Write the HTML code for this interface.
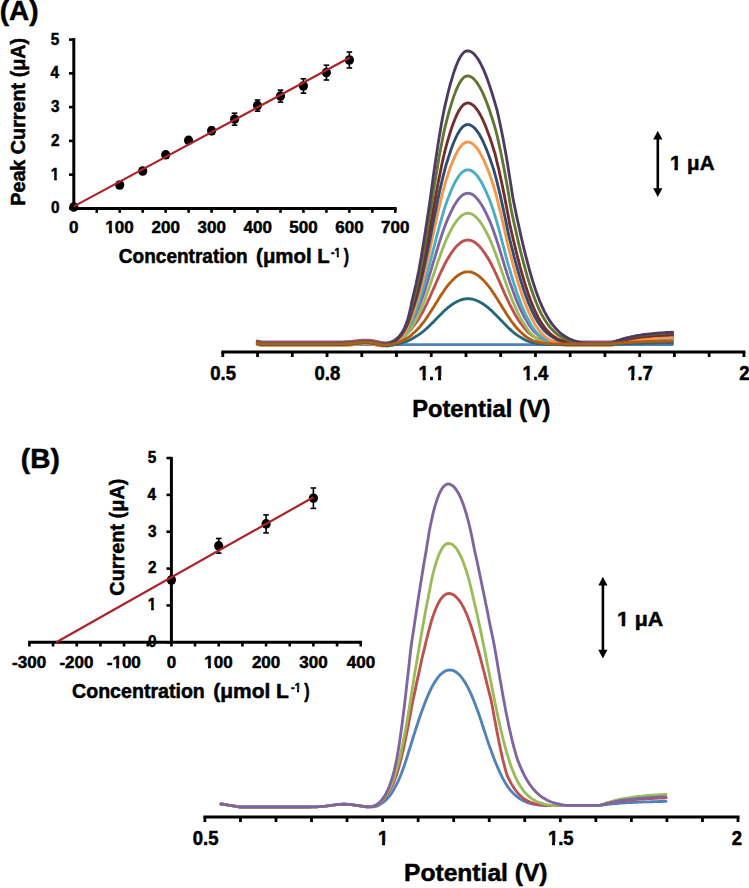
<!DOCTYPE html>
<html><head><meta charset="utf-8"><style>
html,body{margin:0;padding:0;background:#fff;}
svg{display:block;}
text{font-family:"Liberation Sans",sans-serif;font-weight:bold;stroke:#000;stroke-width:0.5px;stroke-linejoin:round;}
</style></head><body>
<svg width="749" height="888" viewBox="0 0 749 888">
<rect width="749" height="888" fill="#fff"/>
<text x="-0.35" y="19.60" font-size="27.5" textLength="38.80" lengthAdjust="spacingAndGlyphs" fill="#000" >(A)</text>
<line x1="73.80" y1="38.10" x2="73.80" y2="209.90" stroke="#000" stroke-width="3" stroke-linecap="butt"/>
<line x1="69.00" y1="208.40" x2="73.80" y2="208.40" stroke="#000" stroke-width="2.6" stroke-linecap="butt"/>
<text x="51.05" y="213.48" font-size="16.5" textLength="8.53" lengthAdjust="spacingAndGlyphs" fill="#000" >0</text>
<line x1="69.00" y1="174.64" x2="73.80" y2="174.64" stroke="#000" stroke-width="2.6" stroke-linecap="butt"/>
<text x="50.85" y="179.72" font-size="16.5" textLength="8.53" lengthAdjust="spacingAndGlyphs" fill="#000" >1</text>
<line x1="69.00" y1="140.88" x2="73.80" y2="140.88" stroke="#000" stroke-width="2.6" stroke-linecap="butt"/>
<text x="51.03" y="145.96" font-size="16.5" textLength="8.53" lengthAdjust="spacingAndGlyphs" fill="#000" >2</text>
<line x1="69.00" y1="107.12" x2="73.80" y2="107.12" stroke="#000" stroke-width="2.6" stroke-linecap="butt"/>
<text x="50.97" y="112.20" font-size="16.5" textLength="8.53" lengthAdjust="spacingAndGlyphs" fill="#000" >3</text>
<line x1="69.00" y1="73.36" x2="73.80" y2="73.36" stroke="#000" stroke-width="2.6" stroke-linecap="butt"/>
<text x="50.49" y="78.44" font-size="16.5" textLength="8.53" lengthAdjust="spacingAndGlyphs" fill="#000" >4</text>
<line x1="69.00" y1="39.60" x2="73.80" y2="39.60" stroke="#000" stroke-width="2.6" stroke-linecap="butt"/>
<text x="50.85" y="44.68" font-size="16.5" textLength="8.53" lengthAdjust="spacingAndGlyphs" fill="#000" >5</text>
<line x1="72.30" y1="208.40" x2="396.60" y2="208.40" stroke="#000" stroke-width="3" stroke-linecap="butt"/>
<text x="69.08" y="233.45" font-size="17" textLength="9.45" lengthAdjust="spacingAndGlyphs" fill="#000" >0</text>
<line x1="96.77" y1="208.40" x2="96.77" y2="212.80" stroke="#000" stroke-width="2.6" stroke-linecap="butt"/>
<line x1="119.73" y1="208.40" x2="119.73" y2="212.80" stroke="#000" stroke-width="2.6" stroke-linecap="butt"/>
<text x="105.36" y="233.45" font-size="17" textLength="28.36" lengthAdjust="spacingAndGlyphs" fill="#000" >100</text>
<line x1="142.69" y1="208.40" x2="142.69" y2="212.80" stroke="#000" stroke-width="2.6" stroke-linecap="butt"/>
<line x1="165.66" y1="208.40" x2="165.66" y2="212.80" stroke="#000" stroke-width="2.6" stroke-linecap="butt"/>
<text x="151.53" y="233.45" font-size="17" textLength="28.36" lengthAdjust="spacingAndGlyphs" fill="#000" >200</text>
<line x1="188.62" y1="208.40" x2="188.62" y2="212.80" stroke="#000" stroke-width="2.6" stroke-linecap="butt"/>
<line x1="211.59" y1="208.40" x2="211.59" y2="212.80" stroke="#000" stroke-width="2.6" stroke-linecap="butt"/>
<text x="197.56" y="233.45" font-size="17" textLength="28.36" lengthAdjust="spacingAndGlyphs" fill="#000" >300</text>
<line x1="234.56" y1="208.40" x2="234.56" y2="212.80" stroke="#000" stroke-width="2.6" stroke-linecap="butt"/>
<line x1="257.52" y1="208.40" x2="257.52" y2="212.80" stroke="#000" stroke-width="2.6" stroke-linecap="butt"/>
<text x="243.56" y="233.45" font-size="17" textLength="28.36" lengthAdjust="spacingAndGlyphs" fill="#000" >400</text>
<line x1="280.49" y1="208.40" x2="280.49" y2="212.80" stroke="#000" stroke-width="2.6" stroke-linecap="butt"/>
<line x1="303.45" y1="208.40" x2="303.45" y2="212.80" stroke="#000" stroke-width="2.6" stroke-linecap="butt"/>
<text x="289.36" y="233.45" font-size="17" textLength="28.36" lengthAdjust="spacingAndGlyphs" fill="#000" >500</text>
<line x1="326.41" y1="208.40" x2="326.41" y2="212.80" stroke="#000" stroke-width="2.6" stroke-linecap="butt"/>
<line x1="349.38" y1="208.40" x2="349.38" y2="212.80" stroke="#000" stroke-width="2.6" stroke-linecap="butt"/>
<text x="335.24" y="233.45" font-size="17" textLength="28.36" lengthAdjust="spacingAndGlyphs" fill="#000" >600</text>
<line x1="372.35" y1="208.40" x2="372.35" y2="212.80" stroke="#000" stroke-width="2.6" stroke-linecap="butt"/>
<line x1="395.31" y1="208.40" x2="395.31" y2="212.80" stroke="#000" stroke-width="2.6" stroke-linecap="butt"/>
<text x="381.12" y="233.45" font-size="17" textLength="28.36" lengthAdjust="spacingAndGlyphs" fill="#000" >700</text>
<ellipse cx="73.8" cy="207.0" rx="4.6" ry="4.8" fill="#000"/>
<ellipse cx="119.7" cy="185.0" rx="4.6" ry="4.8" fill="#000"/>
<ellipse cx="142.7" cy="171.0" rx="4.6" ry="4.8" fill="#000"/>
<ellipse cx="165.7" cy="154.8" rx="4.6" ry="4.8" fill="#000"/>
<ellipse cx="188.6" cy="140.4" rx="4.6" ry="4.8" fill="#000"/>
<line x1="211.59" y1="127.30" x2="211.59" y2="134.30" stroke="#000" stroke-width="1.6" stroke-linecap="butt"/>
<line x1="208.79" y1="127.30" x2="214.39" y2="127.30" stroke="#000" stroke-width="1.6" stroke-linecap="butt"/>
<line x1="208.79" y1="134.30" x2="214.39" y2="134.30" stroke="#000" stroke-width="1.6" stroke-linecap="butt"/>
<ellipse cx="211.6" cy="130.8" rx="4.6" ry="4.8" fill="#000"/>
<line x1="234.56" y1="113.20" x2="234.56" y2="125.20" stroke="#000" stroke-width="1.6" stroke-linecap="butt"/>
<line x1="231.75" y1="113.20" x2="237.36" y2="113.20" stroke="#000" stroke-width="1.6" stroke-linecap="butt"/>
<line x1="231.75" y1="125.20" x2="237.36" y2="125.20" stroke="#000" stroke-width="1.6" stroke-linecap="butt"/>
<ellipse cx="234.6" cy="119.2" rx="4.6" ry="4.8" fill="#000"/>
<line x1="257.52" y1="100.00" x2="257.52" y2="111.20" stroke="#000" stroke-width="1.6" stroke-linecap="butt"/>
<line x1="254.72" y1="100.00" x2="260.32" y2="100.00" stroke="#000" stroke-width="1.6" stroke-linecap="butt"/>
<line x1="254.72" y1="111.20" x2="260.32" y2="111.20" stroke="#000" stroke-width="1.6" stroke-linecap="butt"/>
<ellipse cx="257.5" cy="105.6" rx="4.6" ry="4.8" fill="#000"/>
<line x1="280.49" y1="90.10" x2="280.49" y2="102.10" stroke="#000" stroke-width="1.6" stroke-linecap="butt"/>
<line x1="277.69" y1="90.10" x2="283.29" y2="90.10" stroke="#000" stroke-width="1.6" stroke-linecap="butt"/>
<line x1="277.69" y1="102.10" x2="283.29" y2="102.10" stroke="#000" stroke-width="1.6" stroke-linecap="butt"/>
<ellipse cx="280.5" cy="96.1" rx="4.6" ry="4.8" fill="#000"/>
<line x1="303.45" y1="78.80" x2="303.45" y2="93.20" stroke="#000" stroke-width="1.6" stroke-linecap="butt"/>
<line x1="300.65" y1="78.80" x2="306.25" y2="78.80" stroke="#000" stroke-width="1.6" stroke-linecap="butt"/>
<line x1="300.65" y1="93.20" x2="306.25" y2="93.20" stroke="#000" stroke-width="1.6" stroke-linecap="butt"/>
<ellipse cx="303.4" cy="86.0" rx="4.6" ry="4.8" fill="#000"/>
<line x1="326.41" y1="65.20" x2="326.41" y2="80.00" stroke="#000" stroke-width="1.6" stroke-linecap="butt"/>
<line x1="323.61" y1="65.20" x2="329.21" y2="65.20" stroke="#000" stroke-width="1.6" stroke-linecap="butt"/>
<line x1="323.61" y1="80.00" x2="329.21" y2="80.00" stroke="#000" stroke-width="1.6" stroke-linecap="butt"/>
<ellipse cx="326.4" cy="72.6" rx="4.6" ry="4.8" fill="#000"/>
<line x1="349.38" y1="52.00" x2="349.38" y2="68.00" stroke="#000" stroke-width="1.6" stroke-linecap="butt"/>
<line x1="346.58" y1="52.00" x2="352.18" y2="52.00" stroke="#000" stroke-width="1.6" stroke-linecap="butt"/>
<line x1="346.58" y1="68.00" x2="352.18" y2="68.00" stroke="#000" stroke-width="1.6" stroke-linecap="butt"/>
<ellipse cx="349.4" cy="60.0" rx="4.6" ry="4.8" fill="#000"/>
<line x1="73.80" y1="206.40" x2="349.88" y2="57.50" stroke="#ad2228" stroke-width="2.2" stroke-linecap="butt"/>
<text transform="translate(24.90,204.70) rotate(-90)" x="-1.07" y="0" font-size="19.5" textLength="167.92" lengthAdjust="spacingAndGlyphs">Peak Current (μA)</text>
<text x="118.87" y="263.20" font-size="19.5" textLength="128.86" lengthAdjust="spacingAndGlyphs" fill="#000" >Concentration</text>
<text x="256.13" y="263.20" font-size="19.5" textLength="73.56" lengthAdjust="spacingAndGlyphs" fill="#000" >(μmol L</text>
<text x="331.03" y="256.70" font-size="12" textLength="9.52" lengthAdjust="spacingAndGlyphs" fill="#000" >-1</text>
<text x="343.63" y="263.20" font-size="19.5" textLength="5.32" lengthAdjust="spacingAndGlyphs" fill="#000" >)</text>
<line x1="221.30" y1="352.00" x2="745.40" y2="352.00" stroke="#000" stroke-width="3.2" stroke-linecap="butt"/>
<line x1="222.80" y1="352.00" x2="222.80" y2="357.00" stroke="#000" stroke-width="2.8" stroke-linecap="butt"/>
<line x1="257.54" y1="352.00" x2="257.54" y2="357.00" stroke="#000" stroke-width="2.8" stroke-linecap="butt"/>
<line x1="292.28" y1="352.00" x2="292.28" y2="357.00" stroke="#000" stroke-width="2.8" stroke-linecap="butt"/>
<line x1="327.02" y1="352.00" x2="327.02" y2="357.00" stroke="#000" stroke-width="2.8" stroke-linecap="butt"/>
<line x1="361.76" y1="352.00" x2="361.76" y2="357.00" stroke="#000" stroke-width="2.8" stroke-linecap="butt"/>
<line x1="396.50" y1="352.00" x2="396.50" y2="357.00" stroke="#000" stroke-width="2.8" stroke-linecap="butt"/>
<line x1="431.24" y1="352.00" x2="431.24" y2="357.00" stroke="#000" stroke-width="2.8" stroke-linecap="butt"/>
<line x1="465.98" y1="352.00" x2="465.98" y2="357.00" stroke="#000" stroke-width="2.8" stroke-linecap="butt"/>
<line x1="500.72" y1="352.00" x2="500.72" y2="357.00" stroke="#000" stroke-width="2.8" stroke-linecap="butt"/>
<line x1="535.46" y1="352.00" x2="535.46" y2="357.00" stroke="#000" stroke-width="2.8" stroke-linecap="butt"/>
<line x1="570.20" y1="352.00" x2="570.20" y2="357.00" stroke="#000" stroke-width="2.8" stroke-linecap="butt"/>
<line x1="604.94" y1="352.00" x2="604.94" y2="357.00" stroke="#000" stroke-width="2.8" stroke-linecap="butt"/>
<line x1="639.68" y1="352.00" x2="639.68" y2="357.00" stroke="#000" stroke-width="2.8" stroke-linecap="butt"/>
<line x1="674.42" y1="352.00" x2="674.42" y2="357.00" stroke="#000" stroke-width="2.8" stroke-linecap="butt"/>
<line x1="709.16" y1="352.00" x2="709.16" y2="357.00" stroke="#000" stroke-width="2.8" stroke-linecap="butt"/>
<line x1="743.90" y1="352.00" x2="743.90" y2="357.00" stroke="#000" stroke-width="2.8" stroke-linecap="butt"/>
<text x="210.31" y="379.61" font-size="19.5" textLength="25.75" lengthAdjust="spacingAndGlyphs" fill="#000" >0.5</text>
<text x="314.56" y="379.61" font-size="19.5" textLength="25.75" lengthAdjust="spacingAndGlyphs" fill="#000" >0.8</text>
<text x="418.54" y="379.61" font-size="19.5" textLength="25.75" lengthAdjust="spacingAndGlyphs" fill="#000" >1.1</text>
<text x="522.55" y="379.61" font-size="19.5" textLength="25.75" lengthAdjust="spacingAndGlyphs" fill="#000" >1.4</text>
<text x="627.13" y="379.61" font-size="19.5" textLength="25.75" lengthAdjust="spacingAndGlyphs" fill="#000" >1.7</text>
<text x="739.30" y="379.61" font-size="19.5" textLength="10.30" lengthAdjust="spacingAndGlyphs" fill="#000" >2</text>
<text x="412.16" y="416.70" font-size="23.5" textLength="138.36" lengthAdjust="spacingAndGlyphs" fill="#000" >Potential (V)</text>
<line x1="657.80" y1="138.40" x2="657.80" y2="189.30" stroke="#000" stroke-width="2.6" stroke-linecap="butt"/>
<path d="M657.8,130.7 L662.4,139.4 L653.2,139.4Z" fill="#000"/>
<path d="M657.8,197.0 L662.4,188.3 L653.2,188.3Z" fill="#000"/>
<text x="669.96" y="170.20" font-size="20.5" textLength="44.53" lengthAdjust="spacingAndGlyphs" fill="#000" >1 μA</text>
<path d="M257.3,344.6 L400.0,344.6 L500.0,344.6 L672.5,344.6" fill="none" stroke="#4f81bd" stroke-width="2.85" stroke-linejoin="round" stroke-linecap="round" />
<path d="M257.3,341.0 L258.8,341.3 L260.3,341.6 L261.8,341.9 L263.3,341.9 L264.8,341.9 L266.3,341.9 L267.8,341.9 L269.3,341.9 L270.8,341.9 L272.3,341.9 L273.8,341.9 L275.3,341.9 L276.8,341.9 L278.3,341.9 L279.8,341.9 L281.3,341.9 L282.8,341.9 L284.3,341.9 L285.8,341.9 L287.3,341.9 L288.8,341.9 L290.3,341.9 L291.8,341.9 L293.3,341.9 L294.8,341.9 L296.3,341.9 L297.8,341.9 L299.3,341.9 L300.8,341.9 L302.3,341.9 L303.8,341.9 L305.3,341.9 L306.8,341.9 L308.3,341.9 L309.8,341.9 L311.3,341.9 L312.8,341.9 L314.3,341.9 L315.8,341.9 L317.3,341.9 L318.8,341.9 L320.3,341.9 L321.8,341.9 L323.3,341.9 L324.8,341.9 L326.3,341.9 L327.8,341.9 L329.3,341.9 L330.8,341.9 L332.3,341.9 L333.8,341.9 L335.3,341.9 L336.8,341.9 L338.3,341.9 L339.8,341.9 L341.3,341.9 L342.8,341.8 L344.3,341.8 L345.8,341.7 L347.3,341.7 L348.8,341.6 L350.3,341.5 L351.8,341.4 L353.3,341.2 L354.8,341.0 L356.3,340.9 L357.8,340.7 L359.3,340.5 L360.8,340.4 L362.3,340.2 L363.8,340.1 L365.3,340.1 L366.8,340.1 L368.3,340.2 L369.8,340.3 L371.3,340.5 L372.8,340.7 L374.3,341.0 L375.8,341.3 L377.3,341.6 L378.8,341.9 L380.5,342.3 L381.7,342.5 L384.6,342.8 L388.0,342.7 L391.2,342.1 L394.2,341.2 L396.8,340.1 L399.3,338.9 L401.5,337.7 L403.5,336.5 L405.3,335.1 L407.0,333.7 L408.6,332.2 L410.1,330.6 L411.5,328.8 L412.9,327.0 L414.4,325.0 L415.9,323.0 L417.4,320.9 L418.8,318.7 L420.2,316.4 L421.5,314.1 L422.8,311.7 L424.1,309.2 L425.3,306.7 L426.6,304.1 L427.8,301.5 L429.0,298.9 L430.2,296.3 L431.3,293.6 L432.5,291.0 L433.7,288.3 L434.9,285.6 L436.0,283.0 L437.2,280.4 L438.3,277.8 L439.5,275.2 L440.6,272.7 L441.8,270.2 L442.9,267.8 L444.1,265.5 L445.3,263.2 L446.4,261.0 L447.6,258.9 L448.9,256.9 L450.1,254.9 L451.3,253.1 L452.5,251.4 L453.7,249.7 L454.9,248.2 L456.1,246.8 L457.3,245.6 L458.5,244.4 L459.7,243.4 L460.8,242.5 L462.0,241.7 L463.2,241.1 L464.4,240.6 L465.5,240.3 L466.7,240.1 L467.9,240.0 L469.1,240.1 L470.3,240.3 L471.4,240.6 L472.6,241.1 L473.8,241.7 L475.0,242.5 L476.2,243.4 L477.4,244.4 L478.6,245.6 L479.8,246.8 L481.0,248.2 L482.2,249.7 L483.4,251.4 L484.7,253.1 L485.9,254.9 L487.1,256.9 L488.4,258.9 L489.6,261.0 L490.8,263.2 L491.9,265.5 L493.1,267.8 L494.3,270.2 L495.4,272.7 L496.6,275.2 L497.7,277.8 L498.9,280.4 L500.1,283.0 L501.2,285.6 L502.4,288.3 L503.5,290.9 L504.7,293.6 L505.9,296.3 L507.2,298.9 L508.4,301.5 L509.6,304.1 L510.9,306.7 L512.2,309.2 L513.5,311.7 L514.8,314.1 L516.2,316.4 L517.6,318.7 L519.0,320.9 L520.5,323.0 L522.0,325.0 L523.6,327.0 L525.0,328.8 L526.5,330.5 L528.0,332.2 L529.7,333.7 L531.5,335.1 L533.4,336.3 L535.5,337.5 L537.8,338.5 L540.3,339.4 L543.0,340.2 L546.1,340.8 L549.4,341.3 L552.8,341.6 L555.8,341.8 L557.0,341.9 L558.5,341.9 L560.0,341.9 L561.5,341.9 L563.0,341.9 L564.5,341.9 L566.0,341.9 L567.5,341.9 L569.0,341.9 L570.5,341.9 L572.0,341.9 L573.5,341.9 L575.0,341.9 L576.5,341.9 L578.0,341.9 L579.5,341.9 L581.0,341.9 L582.5,341.9 L584.0,341.9 L585.5,341.9 L587.0,341.9 L588.5,341.9 L590.0,341.9 L591.5,341.9 L593.0,341.9 L594.5,341.9 L596.0,341.9 L597.5,341.9 L599.0,341.9 L600.5,341.9 L602.0,341.9 L603.5,341.9 L605.0,341.9 L606.5,341.9 L608.0,341.9 L609.5,341.9 L611.0,341.9 L612.5,341.6 L614.0,341.4 L615.5,341.2 L617.0,341.0 L618.5,340.8 L620.0,340.6 L621.5,340.4 L623.0,340.3 L624.5,340.1 L626.0,340.0 L627.5,339.8 L629.0,339.7 L630.5,339.6 L632.0,339.5 L633.5,339.3 L635.0,339.2 L636.5,339.1 L638.0,339.0 L639.5,339.0 L641.0,338.9 L642.5,338.8 L644.0,338.7 L645.5,338.7 L647.0,338.6 L648.5,338.5 L650.0,338.5 L651.5,338.4 L653.0,338.4 L654.5,338.3 L656.0,338.3 L657.5,338.2 L659.0,338.2 L660.5,338.1 L662.0,338.1 L663.5,338.1 L665.0,338.0 L666.5,338.0 L668.0,338.0 L669.5,337.9 L671.0,337.9 L672.5,337.9" fill="none" stroke="#c0504d" stroke-width="2.85" stroke-linejoin="round" stroke-linecap="round" />
<path d="M257.3,344.0 L258.8,344.3 L260.3,344.6 L261.8,344.9 L263.3,344.9 L264.8,344.9 L266.3,344.9 L267.8,344.9 L269.3,344.9 L270.8,344.9 L272.3,344.9 L273.8,344.9 L275.3,344.9 L276.8,344.9 L278.3,344.9 L279.8,344.9 L281.3,344.9 L282.8,344.9 L284.3,344.9 L285.8,344.9 L287.3,344.9 L288.8,344.9 L290.3,344.9 L291.8,344.9 L293.3,344.9 L294.8,344.9 L296.3,344.9 L297.8,344.9 L299.3,344.9 L300.8,344.9 L302.3,344.9 L303.8,344.9 L305.3,344.9 L306.8,344.9 L308.3,344.9 L309.8,344.9 L311.3,344.9 L312.8,344.9 L314.3,344.9 L315.8,344.9 L317.3,344.9 L318.8,344.9 L320.3,344.9 L321.8,344.9 L323.3,344.9 L324.8,344.9 L326.3,344.9 L327.8,344.9 L329.3,344.9 L330.8,344.9 L332.3,344.9 L333.8,344.9 L335.3,344.9 L336.8,344.9 L338.3,344.9 L339.8,344.9 L341.3,344.9 L342.8,344.8 L344.3,344.8 L345.8,344.7 L347.3,344.7 L348.8,344.6 L350.3,344.5 L351.8,344.4 L353.3,344.2 L354.8,344.0 L356.3,343.9 L357.8,343.7 L359.3,343.5 L360.8,343.4 L362.3,343.2 L363.8,343.1 L365.3,343.1 L366.8,343.1 L368.3,343.2 L369.8,343.3 L371.3,343.5 L372.8,343.7 L374.3,344.0 L375.8,344.3 L377.3,344.6 L378.8,344.9 L380.1,345.2 L381.3,345.4 L384.2,345.6 L387.6,345.5 L390.8,344.8 L393.8,343.7 L396.5,342.4 L398.9,341.0 L401.1,339.5 L403.2,337.9 L405.0,336.2 L406.7,334.3 L408.3,332.3 L409.8,330.2 L411.3,328.0 L412.6,325.6 L414.1,323.1 L415.6,320.5 L417.1,317.8 L418.4,314.9 L419.8,312.0 L421.1,308.9 L422.4,305.8 L423.7,302.6 L424.9,299.4 L426.1,296.1 L427.3,292.7 L428.5,289.4 L429.7,285.9 L430.9,282.5 L432.0,279.1 L433.2,275.6 L434.4,272.2 L435.5,268.7 L436.7,265.4 L437.8,262.0 L439.0,258.7 L440.2,255.5 L441.3,252.3 L442.5,249.2 L443.7,246.1 L444.8,243.2 L446.0,240.3 L447.2,237.6 L448.5,235.0 L449.7,232.5 L451.0,230.1 L452.2,227.9 L453.4,225.8 L454.6,223.8 L455.9,222.0 L457.1,220.4 L458.3,218.9 L459.5,217.6 L460.7,216.4 L461.9,215.4 L463.1,214.6 L464.3,214.0 L465.4,213.6 L466.6,213.3 L467.8,213.2 L469.1,213.3 L470.3,213.6 L471.5,214.0 L472.7,214.6 L474.0,215.4 L475.2,216.4 L476.4,217.6 L477.7,218.9 L478.9,220.4 L480.2,222.0 L481.4,223.8 L482.7,225.8 L484.0,227.9 L485.2,230.1 L486.5,232.5 L487.8,235.0 L489.1,237.6 L490.3,240.3 L491.5,243.2 L492.7,246.1 L493.9,249.2 L495.1,252.3 L496.3,255.5 L497.4,258.7 L498.6,262.0 L499.8,265.4 L500.9,268.7 L502.1,272.2 L503.3,275.6 L504.4,279.1 L505.7,282.5 L506.9,285.9 L508.2,289.4 L509.4,292.7 L510.7,296.1 L512.0,299.4 L513.3,302.6 L514.7,305.8 L516.1,308.9 L517.5,312.0 L518.9,314.9 L520.4,317.8 L521.9,320.5 L523.5,323.1 L525.2,325.6 L526.7,328.0 L528.2,330.2 L529.9,332.3 L531.6,334.3 L533.5,336.1 L535.5,337.7 L537.7,339.2 L540.1,340.5 L542.7,341.7 L545.6,342.7 L548.8,343.5 L552.2,344.1 L555.8,344.5 L558.8,344.8 L560.1,344.9 L561.6,344.9 L563.1,344.9 L564.6,344.9 L566.1,344.9 L567.6,344.9 L569.1,344.9 L570.6,344.9 L572.1,344.9 L573.6,344.9 L575.1,344.9 L576.6,344.9 L578.1,344.9 L579.6,344.9 L581.1,344.9 L582.6,344.9 L584.1,344.9 L585.6,344.9 L587.1,344.9 L588.6,344.9 L590.1,344.9 L591.6,344.9 L593.1,344.9 L594.6,344.9 L596.1,344.9 L597.6,344.9 L599.1,344.9 L600.6,344.9 L602.1,344.9 L603.6,344.9 L605.1,344.9 L606.6,344.9 L608.1,344.9 L609.6,344.9 L611.1,344.9 L612.6,344.5 L614.1,344.2 L615.6,344.0 L617.1,343.7 L618.6,343.4 L620.1,343.2 L621.6,343.0 L623.1,342.8 L624.6,342.6 L626.1,342.4 L627.6,342.2 L629.1,342.0 L630.6,341.9 L632.1,341.7 L633.6,341.6 L635.1,341.4 L636.6,341.3 L638.1,341.2 L639.6,341.1 L641.1,341.0 L642.6,340.9 L644.1,340.8 L645.6,340.7 L647.1,340.6 L648.6,340.5 L650.1,340.5 L651.6,340.4 L653.1,340.3 L654.6,340.3 L656.1,340.2 L657.6,340.1 L659.1,340.1 L660.6,340.0 L662.1,340.0 L663.6,339.9 L665.1,339.9 L666.6,339.9 L668.1,339.8 L669.6,339.8 L671.1,339.8 L672.5,339.7" fill="none" stroke="#9bbb59" stroke-width="2.85" stroke-linejoin="round" stroke-linecap="round" />
<path d="M257.3,341.6 L258.8,341.9 L260.3,342.2 L261.8,342.5 L263.3,342.5 L264.8,342.5 L266.3,342.5 L267.8,342.5 L269.3,342.5 L270.8,342.5 L272.3,342.5 L273.8,342.5 L275.3,342.5 L276.8,342.5 L278.3,342.5 L279.8,342.5 L281.3,342.5 L282.8,342.5 L284.3,342.5 L285.8,342.5 L287.3,342.5 L288.8,342.5 L290.3,342.5 L291.8,342.5 L293.3,342.5 L294.8,342.5 L296.3,342.5 L297.8,342.5 L299.3,342.5 L300.8,342.5 L302.3,342.5 L303.8,342.5 L305.3,342.5 L306.8,342.5 L308.3,342.5 L309.8,342.5 L311.3,342.5 L312.8,342.5 L314.3,342.5 L315.8,342.5 L317.3,342.5 L318.8,342.5 L320.3,342.5 L321.8,342.5 L323.3,342.5 L324.8,342.5 L326.3,342.5 L327.8,342.5 L329.3,342.5 L330.8,342.5 L332.3,342.5 L333.8,342.5 L335.3,342.5 L336.8,342.5 L338.3,342.5 L339.8,342.5 L341.3,342.5 L342.8,342.4 L344.3,342.4 L345.8,342.3 L347.3,342.3 L348.8,342.2 L350.3,342.1 L351.8,342.0 L353.3,341.8 L354.8,341.6 L356.3,341.5 L357.8,341.3 L359.3,341.1 L360.8,341.0 L362.3,340.8 L363.8,340.7 L365.3,340.7 L366.8,340.7 L368.3,340.8 L369.8,340.9 L371.3,341.1 L372.8,341.3 L374.3,341.6 L375.8,341.9 L377.3,342.2 L378.8,342.5 L379.8,342.7 L381.0,342.9 L383.9,343.1 L387.3,343.0 L390.6,342.2 L393.5,341.0 L396.2,339.6 L398.7,338.0 L400.9,336.3 L402.9,334.5 L404.8,332.6 L406.5,330.5 L408.1,328.3 L409.6,325.9 L411.1,323.3 L412.4,320.6 L413.9,317.8 L415.4,314.8 L416.8,311.7 L418.2,308.5 L419.5,305.2 L420.8,301.7 L422.1,298.2 L423.4,294.6 L424.6,290.9 L425.8,287.2 L427.0,283.4 L428.2,279.5 L429.3,275.7 L430.5,271.8 L431.7,267.9 L432.8,263.9 L434.0,260.0 L435.2,256.2 L436.3,252.3 L437.5,248.5 L438.6,244.8 L439.8,241.1 L441.0,237.5 L442.1,234.0 L443.3,230.5 L444.5,227.2 L445.7,224.0 L446.9,220.9 L448.2,217.9 L449.5,215.1 L450.7,212.4 L452.0,209.8 L453.2,207.5 L454.4,205.2 L455.7,203.2 L456.9,201.3 L458.1,199.7 L459.3,198.2 L460.5,196.9 L461.7,195.7 L463.0,194.8 L464.2,194.1 L465.4,193.6 L466.6,193.3 L467.8,193.2 L469.1,193.3 L470.3,193.6 L471.6,194.1 L472.9,194.8 L474.1,195.7 L475.4,196.9 L476.7,198.2 L478.0,199.7 L479.2,201.3 L480.5,203.2 L481.8,205.2 L483.1,207.5 L484.4,209.8 L485.7,212.4 L487.0,215.1 L488.3,217.9 L489.7,220.9 L491.0,224.0 L492.2,227.2 L493.4,230.5 L494.6,234.0 L495.8,237.5 L497.0,241.1 L498.2,244.8 L499.4,248.5 L500.5,252.3 L501.7,256.2 L502.9,260.0 L504.0,263.9 L505.2,267.9 L506.5,271.8 L507.7,275.7 L509.0,279.5 L510.3,283.4 L511.7,287.2 L513.0,290.9 L514.4,294.6 L515.7,298.2 L517.2,301.7 L518.6,305.2 L520.1,308.5 L521.6,311.7 L523.2,314.8 L524.8,317.8 L526.5,320.6 L528.1,323.3 L529.7,325.9 L531.4,328.2 L533.3,330.5 L535.2,332.5 L537.4,334.4 L539.6,336.0 L542.1,337.5 L544.8,338.8 L547.8,340.0 L551.1,340.9 L554.7,341.6 L558.3,342.1 L561.5,342.4 L562.8,342.5 L564.3,342.5 L565.8,342.5 L567.3,342.5 L568.8,342.5 L570.3,342.5 L571.8,342.5 L573.3,342.5 L574.8,342.5 L576.3,342.5 L577.8,342.5 L579.3,342.5 L580.8,342.5 L582.3,342.5 L583.8,342.5 L585.3,342.5 L586.8,342.5 L588.3,342.5 L589.8,342.5 L591.3,342.5 L592.8,342.5 L594.3,342.5 L595.8,342.5 L597.3,342.5 L598.8,342.5 L600.3,342.5 L601.8,342.5 L603.3,342.5 L604.8,342.5 L606.3,342.5 L607.8,342.5 L609.3,342.5 L610.8,342.5 L612.3,342.2 L613.8,341.8 L615.3,341.5 L616.8,341.2 L618.3,340.9 L619.8,340.6 L621.3,340.4 L622.8,340.1 L624.3,339.9 L625.8,339.7 L627.3,339.5 L628.8,339.3 L630.3,339.1 L631.8,338.9 L633.3,338.8 L634.8,338.6 L636.3,338.5 L637.8,338.3 L639.3,338.2 L640.8,338.1 L642.3,338.0 L643.8,337.9 L645.3,337.8 L646.8,337.7 L648.3,337.6 L649.8,337.5 L651.3,337.4 L652.8,337.3 L654.3,337.2 L655.8,337.2 L657.3,337.1 L658.8,337.1 L660.3,337.0 L661.8,336.9 L663.3,336.9 L664.8,336.8 L666.3,336.8 L667.8,336.8 L669.3,336.7 L670.8,336.7 L672.3,336.6 L672.5,336.6" fill="none" stroke="#8064a2" stroke-width="2.85" stroke-linejoin="round" stroke-linecap="round" />
<path d="M257.3,344.3 L258.8,344.6 L260.3,344.9 L261.8,345.2 L263.3,345.2 L264.8,345.2 L266.3,345.2 L267.8,345.2 L269.3,345.2 L270.8,345.2 L272.3,345.2 L273.8,345.2 L275.3,345.2 L276.8,345.2 L278.3,345.2 L279.8,345.2 L281.3,345.2 L282.8,345.2 L284.3,345.2 L285.8,345.2 L287.3,345.2 L288.8,345.2 L290.3,345.2 L291.8,345.2 L293.3,345.2 L294.8,345.2 L296.3,345.2 L297.8,345.2 L299.3,345.2 L300.8,345.2 L302.3,345.2 L303.8,345.2 L305.3,345.2 L306.8,345.2 L308.3,345.2 L309.8,345.2 L311.3,345.2 L312.8,345.2 L314.3,345.2 L315.8,345.2 L317.3,345.2 L318.8,345.2 L320.3,345.2 L321.8,345.2 L323.3,345.2 L324.8,345.2 L326.3,345.2 L327.8,345.2 L329.3,345.2 L330.8,345.2 L332.3,345.2 L333.8,345.2 L335.3,345.2 L336.8,345.2 L338.3,345.2 L339.8,345.2 L341.3,345.2 L342.8,345.1 L344.3,345.1 L345.8,345.0 L347.3,345.0 L348.8,344.9 L350.3,344.8 L351.8,344.7 L353.3,344.5 L354.8,344.3 L356.3,344.2 L357.8,344.0 L359.3,343.8 L360.8,343.7 L362.3,343.5 L363.8,343.4 L365.3,343.4 L366.8,343.4 L368.3,343.5 L369.8,343.6 L371.3,343.8 L372.8,344.0 L374.3,344.3 L375.8,344.6 L377.3,344.9 L378.8,345.2 L379.7,345.4 L380.9,345.5 L383.8,345.7 L387.2,345.5 L390.5,344.7 L393.4,343.3 L396.1,341.7 L398.6,339.9 L400.8,337.9 L402.8,335.8 L404.6,333.5 L406.4,331.1 L408.0,328.5 L409.5,325.7 L410.9,322.7 L412.2,319.5 L413.7,316.2 L415.2,312.7 L416.6,309.0 L417.9,305.3 L419.3,301.4 L420.5,297.3 L421.8,293.2 L423.0,288.9 L424.3,284.6 L425.5,280.2 L426.6,275.7 L427.8,271.2 L429.0,266.7 L430.1,262.1 L431.3,257.5 L432.5,252.9 L433.6,248.3 L434.8,243.8 L435.9,239.3 L437.1,234.8 L438.3,230.4 L439.4,226.1 L440.6,221.8 L441.8,217.7 L443.0,213.7 L444.1,209.7 L445.3,206.0 L446.6,202.3 L447.9,198.8 L449.2,195.5 L450.4,192.3 L451.7,189.3 L452.9,186.5 L454.2,183.9 L455.4,181.5 L456.7,179.4 L457.9,177.4 L459.2,175.6 L460.4,174.1 L461.6,172.8 L462.8,171.7 L464.1,170.9 L465.3,170.3 L466.5,169.9 L467.7,169.8 L469.1,169.9 L470.4,170.3 L471.7,170.9 L473.0,171.7 L474.3,172.8 L475.6,174.1 L477.0,175.6 L478.3,177.4 L479.6,179.4 L481.0,181.5 L482.3,183.9 L483.6,186.5 L485.0,189.3 L486.4,192.3 L487.7,195.5 L489.1,198.8 L490.5,202.3 L491.8,206.0 L493.1,209.7 L494.3,213.7 L495.5,217.7 L496.8,221.8 L498.0,226.1 L499.2,230.4 L500.4,234.8 L501.5,239.3 L502.7,243.8 L503.9,248.3 L505.1,252.9 L506.2,257.5 L507.5,262.1 L508.8,266.7 L510.2,271.2 L511.5,275.7 L512.9,280.2 L514.3,284.6 L515.7,288.9 L517.1,293.2 L518.6,297.3 L520.1,301.4 L521.6,305.3 L523.2,309.0 L524.8,312.7 L526.5,316.2 L528.3,319.5 L529.9,322.7 L531.7,325.7 L533.5,328.5 L535.4,331.1 L537.5,333.5 L539.7,335.6 L542.1,337.6 L544.7,339.4 L547.6,340.9 L550.7,342.2 L554.1,343.3 L557.8,344.1 L561.7,344.7 L564.9,345.1 L566.3,345.2 L567.8,345.2 L569.3,345.2 L570.8,345.2 L572.3,345.2 L573.8,345.2 L575.3,345.2 L576.8,345.2 L578.3,345.2 L579.8,345.2 L581.3,345.2 L582.8,345.2 L584.3,345.2 L585.8,345.2 L587.3,345.2 L588.8,345.2 L590.3,345.2 L591.8,345.2 L593.3,345.2 L594.8,345.2 L596.3,345.2 L597.8,345.2 L599.3,345.2 L600.8,345.2 L602.3,345.2 L603.8,345.2 L605.3,345.2 L606.8,345.2 L608.3,345.2 L609.8,345.2 L611.3,345.1 L612.8,344.7 L614.3,344.3 L615.8,343.9 L617.3,343.6 L618.8,343.2 L620.3,342.9 L621.8,342.6 L623.3,342.3 L624.8,342.1 L626.3,341.8 L627.8,341.6 L629.3,341.4 L630.8,341.1 L632.3,340.9 L633.8,340.8 L635.3,340.6 L636.8,340.4 L638.3,340.3 L639.8,340.1 L641.3,340.0 L642.8,339.8 L644.3,339.7 L645.8,339.6 L647.3,339.5 L648.8,339.4 L650.3,339.3 L651.8,339.2 L653.3,339.1 L654.8,339.0 L656.3,338.9 L657.8,338.8 L659.3,338.8 L660.8,338.7 L662.3,338.7 L663.8,338.6 L665.3,338.5 L666.8,338.5 L668.3,338.4 L669.8,338.4 L671.3,338.3 L672.5,338.3" fill="none" stroke="#4bacc6" stroke-width="2.85" stroke-linejoin="round" stroke-linecap="round" />
<path d="M257.3,344.7 L258.8,345.0 L260.3,345.3 L261.8,345.6 L263.3,345.6 L264.8,345.6 L266.3,345.6 L267.8,345.6 L269.3,345.6 L270.8,345.6 L272.3,345.6 L273.8,345.6 L275.3,345.6 L276.8,345.6 L278.3,345.6 L279.8,345.6 L281.3,345.6 L282.8,345.6 L284.3,345.6 L285.8,345.6 L287.3,345.6 L288.8,345.6 L290.3,345.6 L291.8,345.6 L293.3,345.6 L294.8,345.6 L296.3,345.6 L297.8,345.6 L299.3,345.6 L300.8,345.6 L302.3,345.6 L303.8,345.6 L305.3,345.6 L306.8,345.6 L308.3,345.6 L309.8,345.6 L311.3,345.6 L312.8,345.6 L314.3,345.6 L315.8,345.6 L317.3,345.6 L318.8,345.6 L320.3,345.6 L321.8,345.6 L323.3,345.6 L324.8,345.6 L326.3,345.6 L327.8,345.6 L329.3,345.6 L330.8,345.6 L332.3,345.6 L333.8,345.6 L335.3,345.6 L336.8,345.6 L338.3,345.6 L339.8,345.6 L341.3,345.6 L342.8,345.5 L344.3,345.5 L345.8,345.4 L347.3,345.4 L348.8,345.3 L350.3,345.2 L351.8,345.1 L353.3,344.9 L354.8,344.7 L356.3,344.6 L357.8,344.4 L359.3,344.2 L360.8,344.1 L362.3,343.9 L363.8,343.8 L365.3,343.8 L366.8,343.8 L368.3,343.9 L369.8,344.0 L371.3,344.2 L372.8,344.4 L374.3,344.7 L375.8,345.0 L377.3,345.3 L378.8,345.6 L380.7,346.0 L381.9,346.1 L384.8,346.2 L388.1,345.8 L391.3,344.7 L394.2,343.1 L396.8,341.3 L399.2,339.3 L401.3,337.0 L403.2,334.6 L405.0,332.0 L406.6,329.2 L408.2,326.2 L409.6,322.9 L410.9,319.5 L412.2,315.8 L413.7,311.9 L415.1,307.9 L416.5,303.6 L417.8,299.2 L419.1,294.7 L420.4,290.0 L421.7,285.2 L422.9,280.3 L424.1,275.3 L425.3,270.1 L426.5,265.0 L427.7,259.7 L428.8,254.4 L430.0,249.1 L431.1,243.8 L432.2,238.5 L433.4,233.2 L434.5,227.9 L435.7,222.6 L436.8,217.5 L437.9,212.3 L439.1,207.3 L440.3,202.4 L441.4,197.6 L442.6,192.9 L443.8,188.4 L445.0,184.0 L446.3,179.7 L447.6,175.7 L448.9,171.8 L450.1,168.1 L451.4,164.7 L452.7,161.4 L454.0,158.4 L455.2,155.6 L456.5,153.1 L457.7,150.8 L459.0,148.8 L460.2,147.0 L461.5,145.5 L462.7,144.2 L464.0,143.3 L465.2,142.6 L466.4,142.1 L467.7,142.0 L469.1,142.1 L470.4,142.6 L471.8,143.3 L473.2,144.2 L474.6,145.5 L476.0,147.0 L477.4,148.8 L478.7,150.8 L480.1,153.1 L481.5,155.6 L482.9,158.4 L484.4,161.4 L485.8,164.7 L487.2,168.1 L488.6,171.8 L490.1,175.7 L491.5,179.7 L492.9,184.0 L494.2,188.4 L495.5,192.9 L496.8,197.6 L498.0,202.4 L499.2,207.3 L500.5,212.3 L501.7,217.5 L502.9,222.6 L504.0,227.9 L505.2,233.2 L506.4,238.5 L507.5,243.8 L508.9,249.1 L510.3,254.4 L511.7,259.7 L513.1,265.0 L514.5,270.1 L515.9,275.3 L517.4,280.3 L518.9,285.2 L520.4,290.0 L522.0,294.7 L523.6,299.2 L525.3,303.6 L527.0,307.9 L528.7,311.9 L530.6,315.8 L532.4,319.5 L534.2,322.9 L536.2,326.2 L538.3,329.2 L540.5,332.0 L542.8,334.5 L545.4,336.8 L548.2,338.8 L551.2,340.6 L554.5,342.1 L558.1,343.4 L562.0,344.3 L566.0,345.0 L569.5,345.5 L570.9,345.6 L572.4,345.6 L573.9,345.6 L575.4,345.6 L576.9,345.6 L578.4,345.6 L579.9,345.6 L581.4,345.6 L582.9,345.6 L584.4,345.6 L585.9,345.6 L587.4,345.6 L588.9,345.6 L590.4,345.6 L591.9,345.6 L593.4,345.6 L594.9,345.6 L596.4,345.6 L597.9,345.6 L599.4,345.6 L600.9,345.6 L602.4,345.6 L603.9,345.6 L605.4,345.6 L606.9,345.6 L608.4,345.6 L609.9,345.6 L611.4,345.5 L612.9,345.0 L614.4,344.5 L615.9,344.1 L617.4,343.7 L618.9,343.3 L620.4,342.9 L621.9,342.6 L623.4,342.2 L624.9,341.9 L626.4,341.6 L627.9,341.4 L629.4,341.1 L630.9,340.9 L632.4,340.6 L633.9,340.4 L635.4,340.2 L636.9,340.0 L638.4,339.8 L639.9,339.7 L641.4,339.5 L642.9,339.4 L644.4,339.2 L645.9,339.1 L647.4,338.9 L648.9,338.8 L650.4,338.7 L651.9,338.6 L653.4,338.5 L654.9,338.4 L656.4,338.3 L657.9,338.2 L659.4,338.1 L660.9,338.1 L662.4,338.0 L663.9,337.9 L665.4,337.9 L666.9,337.8 L668.4,337.7 L669.9,337.7 L671.4,337.6 L672.5,337.6" fill="none" stroke="#f79646" stroke-width="2.85" stroke-linejoin="round" stroke-linecap="round" />
<path d="M257.3,342.2 L258.8,342.5 L260.3,342.8 L261.8,343.1 L263.3,343.1 L264.8,343.1 L266.3,343.1 L267.8,343.1 L269.3,343.1 L270.8,343.1 L272.3,343.1 L273.8,343.1 L275.3,343.1 L276.8,343.1 L278.3,343.1 L279.8,343.1 L281.3,343.1 L282.8,343.1 L284.3,343.1 L285.8,343.1 L287.3,343.1 L288.8,343.1 L290.3,343.1 L291.8,343.1 L293.3,343.1 L294.8,343.1 L296.3,343.1 L297.8,343.1 L299.3,343.1 L300.8,343.1 L302.3,343.1 L303.8,343.1 L305.3,343.1 L306.8,343.1 L308.3,343.1 L309.8,343.1 L311.3,343.1 L312.8,343.1 L314.3,343.1 L315.8,343.1 L317.3,343.1 L318.8,343.1 L320.3,343.1 L321.8,343.1 L323.3,343.1 L324.8,343.1 L326.3,343.1 L327.8,343.1 L329.3,343.1 L330.8,343.1 L332.3,343.1 L333.8,343.1 L335.3,343.1 L336.8,343.1 L338.3,343.1 L339.8,343.1 L341.3,343.1 L342.8,343.0 L344.3,343.0 L345.8,342.9 L347.3,342.9 L348.8,342.8 L350.3,342.7 L351.8,342.6 L353.3,342.4 L354.8,342.2 L356.3,342.1 L357.8,341.9 L359.3,341.7 L360.8,341.6 L362.3,341.4 L363.8,341.3 L365.3,341.3 L366.8,341.3 L368.3,341.4 L369.8,341.5 L371.3,341.7 L372.8,341.9 L374.3,342.2 L375.8,342.5 L377.3,342.8 L378.8,343.1 L380.3,343.4 L381.4,343.7 L382.6,343.7 L385.4,343.7 L388.7,343.2 L391.8,342.0 L394.7,340.3 L397.2,338.4 L399.5,336.2 L401.6,333.9 L403.5,331.3 L405.2,328.5 L406.8,325.5 L408.3,322.3 L409.6,318.8 L410.9,315.0 L412.1,311.1 L413.6,307.0 L415.0,302.6 L416.4,298.1 L417.8,293.4 L419.1,288.5 L420.4,283.4 L421.6,278.3 L422.8,273.0 L424.0,267.6 L425.2,262.1 L426.4,256.6 L427.5,250.9 L428.7,245.3 L429.9,239.6 L431.0,233.9 L432.1,228.1 L433.2,222.4 L434.3,216.8 L435.5,211.1 L436.6,205.6 L437.7,200.1 L438.9,194.7 L440.0,189.4 L441.2,184.3 L442.4,179.2 L443.6,174.3 L444.8,169.6 L446.0,165.1 L447.4,160.7 L448.7,156.6 L450.0,152.7 L451.2,148.9 L452.5,145.5 L453.8,142.2 L455.1,139.2 L456.4,136.5 L457.6,134.0 L458.9,131.9 L460.1,129.9 L461.4,128.3 L462.6,127.0 L463.9,125.9 L465.1,125.2 L466.4,124.7 L467.6,124.6 L469.1,124.7 L470.5,125.2 L471.9,125.9 L473.3,127.0 L474.8,128.3 L476.2,129.9 L477.6,131.9 L479.1,134.0 L480.5,136.5 L481.9,139.2 L483.4,142.2 L484.8,145.5 L486.3,148.9 L487.8,152.7 L489.2,156.6 L490.7,160.7 L492.2,165.1 L493.7,169.6 L495.0,174.3 L496.3,179.2 L497.6,184.3 L498.8,189.4 L500.1,194.7 L501.3,200.1 L502.5,205.6 L503.7,211.1 L504.9,216.8 L506.1,222.4 L507.3,228.1 L508.4,233.9 L509.8,239.6 L511.2,245.3 L512.7,250.9 L514.1,256.6 L515.6,262.1 L517.1,267.6 L518.6,273.0 L520.1,278.3 L521.7,283.4 L523.3,288.5 L525.0,293.4 L526.7,298.1 L528.4,302.6 L530.3,307.0 L532.1,311.1 L534.0,315.0 L536.0,318.8 L538.0,322.2 L540.2,325.5 L542.5,328.5 L544.9,331.2 L547.6,333.7 L550.5,335.8 L553.6,337.8 L557.0,339.4 L560.8,340.7 L564.8,341.8 L569.0,342.5 L572.5,343.0 L574.0,343.1 L575.5,343.1 L577.0,343.1 L578.5,343.1 L580.0,343.1 L581.5,343.1 L583.0,343.1 L584.5,343.1 L586.0,343.1 L587.5,343.1 L589.0,343.1 L590.5,343.1 L592.0,343.1 L593.5,343.1 L595.0,343.1 L596.5,343.1 L598.0,343.1 L599.5,343.1 L601.0,343.1 L602.5,343.1 L604.0,343.1 L605.5,343.1 L607.0,343.1 L608.5,343.1 L610.0,343.1 L611.5,342.9 L613.0,342.4 L614.5,341.9 L616.0,341.4 L617.5,341.0 L619.0,340.6 L620.5,340.2 L622.0,339.8 L623.5,339.5 L625.0,339.1 L626.5,338.8 L628.0,338.5 L629.5,338.3 L631.0,338.0 L632.5,337.8 L634.0,337.5 L635.5,337.3 L637.0,337.1 L638.5,336.9 L640.0,336.7 L641.5,336.6 L643.0,336.4 L644.5,336.2 L646.0,336.1 L647.5,335.9 L649.0,335.8 L650.5,335.7 L652.0,335.6 L653.5,335.5 L655.0,335.4 L656.5,335.3 L658.0,335.2 L659.5,335.1 L661.0,335.0 L662.5,334.9 L664.0,334.9 L665.5,334.8 L667.0,334.7 L668.5,334.7 L670.0,334.6 L671.5,334.5 L672.5,334.5" fill="none" stroke="#2c4d75" stroke-width="2.85" stroke-linejoin="round" stroke-linecap="round" />
<path d="M257.3,343.4 L258.8,343.7 L260.3,344.0 L261.8,344.3 L263.3,344.3 L264.8,344.3 L266.3,344.3 L267.8,344.3 L269.3,344.3 L270.8,344.3 L272.3,344.3 L273.8,344.3 L275.3,344.3 L276.8,344.3 L278.3,344.3 L279.8,344.3 L281.3,344.3 L282.8,344.3 L284.3,344.3 L285.8,344.3 L287.3,344.3 L288.8,344.3 L290.3,344.3 L291.8,344.3 L293.3,344.3 L294.8,344.3 L296.3,344.3 L297.8,344.3 L299.3,344.3 L300.8,344.3 L302.3,344.3 L303.8,344.3 L305.3,344.3 L306.8,344.3 L308.3,344.3 L309.8,344.3 L311.3,344.3 L312.8,344.3 L314.3,344.3 L315.8,344.3 L317.3,344.3 L318.8,344.3 L320.3,344.3 L321.8,344.3 L323.3,344.3 L324.8,344.3 L326.3,344.3 L327.8,344.3 L329.3,344.3 L330.8,344.3 L332.3,344.3 L333.8,344.3 L335.3,344.3 L336.8,344.3 L338.3,344.3 L339.8,344.3 L341.3,344.3 L342.8,344.2 L344.3,344.2 L345.8,344.1 L347.3,344.1 L348.8,344.0 L350.3,343.9 L351.8,343.8 L353.3,343.6 L354.8,343.4 L356.3,343.3 L357.8,343.1 L359.3,342.9 L360.8,342.8 L362.3,342.6 L363.8,342.5 L365.3,342.5 L366.8,342.5 L368.3,342.6 L369.8,342.7 L371.3,342.9 L372.8,343.1 L374.3,343.4 L375.8,343.7 L377.3,344.0 L378.8,344.3 L380.3,344.6 L382.2,345.0 L383.4,345.1 L386.1,344.9 L389.3,344.2 L392.4,342.9 L395.2,341.1 L397.7,339.0 L400.0,336.6 L402.0,334.1 L403.8,331.3 L405.5,328.2 L407.0,324.9 L408.4,321.3 L409.7,317.4 L410.9,313.3 L412.1,309.0 L413.6,304.4 L415.0,299.6 L416.4,294.6 L417.7,289.4 L419.0,284.0 L420.3,278.4 L421.5,272.7 L422.7,266.9 L423.9,260.9 L425.1,254.9 L426.3,248.7 L427.4,242.5 L428.6,236.3 L429.7,230.0 L430.8,223.7 L431.9,217.3 L433.0,211.0 L434.1,204.8 L435.3,198.6 L436.4,192.4 L437.5,186.4 L438.6,180.4 L439.8,174.6 L440.9,168.9 L442.1,163.3 L443.3,157.9 L444.5,152.7 L445.8,147.7 L447.1,142.9 L448.4,138.3 L449.7,134.0 L451.0,129.9 L452.3,126.0 L453.6,122.5 L454.9,119.2 L456.2,116.2 L457.5,113.4 L458.7,111.0 L460.0,108.9 L461.3,107.1 L462.6,105.6 L463.8,104.5 L465.1,103.7 L466.3,103.2 L467.6,103.0 L469.1,103.2 L470.6,103.7 L472.0,104.5 L473.5,105.6 L475.0,107.1 L476.5,108.9 L478.0,111.0 L479.5,113.4 L481.0,116.2 L482.5,119.2 L484.0,122.5 L485.5,126.0 L487.0,129.9 L488.5,134.0 L490.1,138.3 L491.6,142.9 L493.1,147.7 L494.7,152.7 L496.0,157.9 L497.3,163.3 L498.7,168.9 L499.9,174.6 L501.2,180.4 L502.5,186.4 L503.7,192.4 L504.9,198.6 L506.1,204.8 L507.3,211.0 L508.5,217.3 L509.6,223.7 L511.1,230.0 L512.5,236.3 L514.0,242.5 L515.5,248.7 L517.0,254.9 L518.6,260.9 L520.1,266.9 L521.7,272.7 L523.4,278.4 L525.0,284.0 L526.8,289.4 L528.5,294.6 L530.3,299.6 L532.2,304.4 L534.2,309.0 L536.2,313.3 L538.2,317.4 L540.4,321.3 L542.7,324.8 L545.1,328.1 L547.7,331.1 L550.5,333.9 L553.5,336.3 L556.8,338.4 L560.4,340.2 L564.3,341.7 L568.5,342.8 L572.8,343.6 L576.5,344.1 L578.1,344.3 L579.6,344.3 L581.1,344.3 L582.6,344.3 L584.1,344.3 L585.6,344.3 L587.1,344.3 L588.6,344.3 L590.1,344.3 L591.6,344.3 L593.1,344.3 L594.6,344.3 L596.1,344.3 L597.6,344.3 L599.1,344.3 L600.6,344.3 L602.1,344.3 L603.6,344.3 L605.1,344.3 L606.6,344.3 L608.1,344.3 L609.6,344.3 L611.1,344.3 L612.6,343.7 L614.1,343.1 L615.6,342.6 L617.1,342.1 L618.6,341.6 L620.1,341.2 L621.6,340.8 L623.1,340.4 L624.6,340.0 L626.1,339.7 L627.6,339.4 L629.1,339.1 L630.6,338.8 L632.1,338.5 L633.6,338.2 L635.1,338.0 L636.6,337.7 L638.1,337.5 L639.6,337.3 L641.1,337.1 L642.6,336.9 L644.1,336.8 L645.6,336.6 L647.1,336.4 L648.6,336.3 L650.1,336.2 L651.6,336.0 L653.1,335.9 L654.6,335.8 L656.1,335.7 L657.6,335.6 L659.1,335.5 L660.6,335.4 L662.1,335.3 L663.6,335.2 L665.1,335.1 L666.6,335.1 L668.1,335.0 L669.6,334.9 L671.1,334.9 L672.5,334.8" fill="none" stroke="#772c2a" stroke-width="2.85" stroke-linejoin="round" stroke-linecap="round" />
<path d="M257.3,342.5 L258.8,342.8 L260.3,343.1 L261.8,343.4 L263.3,343.4 L264.8,343.4 L266.3,343.4 L267.8,343.4 L269.3,343.4 L270.8,343.4 L272.3,343.4 L273.8,343.4 L275.3,343.4 L276.8,343.4 L278.3,343.4 L279.8,343.4 L281.3,343.4 L282.8,343.4 L284.3,343.4 L285.8,343.4 L287.3,343.4 L288.8,343.4 L290.3,343.4 L291.8,343.4 L293.3,343.4 L294.8,343.4 L296.3,343.4 L297.8,343.4 L299.3,343.4 L300.8,343.4 L302.3,343.4 L303.8,343.4 L305.3,343.4 L306.8,343.4 L308.3,343.4 L309.8,343.4 L311.3,343.4 L312.8,343.4 L314.3,343.4 L315.8,343.4 L317.3,343.4 L318.8,343.4 L320.3,343.4 L321.8,343.4 L323.3,343.4 L324.8,343.4 L326.3,343.4 L327.8,343.4 L329.3,343.4 L330.8,343.4 L332.3,343.4 L333.8,343.4 L335.3,343.4 L336.8,343.4 L338.3,343.4 L339.8,343.4 L341.3,343.4 L342.8,343.3 L344.3,343.3 L345.8,343.2 L347.3,343.2 L348.8,343.1 L350.3,343.0 L351.8,342.9 L353.3,342.7 L354.8,342.5 L356.3,342.4 L357.8,342.2 L359.3,342.0 L360.8,341.9 L362.3,341.7 L363.8,341.6 L365.3,341.6 L366.8,341.6 L368.3,341.7 L369.8,341.8 L371.3,342.0 L372.8,342.2 L374.3,342.5 L375.8,342.8 L377.3,343.1 L378.8,343.4 L380.3,343.7 L381.8,344.0 L383.2,344.3 L384.3,344.3 L387.1,344.0 L390.2,343.1 L393.2,341.6 L396.0,339.6 L398.4,337.4 L400.6,334.8 L402.5,332.0 L404.3,328.9 L405.8,325.5 L407.3,321.9 L408.6,317.9 L409.8,313.6 L411.0,309.1 L412.0,304.2 L413.5,299.2 L414.9,293.8 L416.3,288.3 L417.6,282.5 L418.9,276.6 L420.1,270.4 L421.4,264.1 L422.6,257.6 L423.8,251.0 L424.9,244.3 L426.1,237.5 L427.2,230.6 L428.4,223.7 L429.5,216.7 L430.7,209.7 L431.7,202.7 L432.8,195.7 L433.9,188.8 L435.0,181.9 L436.1,175.1 L437.2,168.4 L438.3,161.8 L439.4,155.3 L440.6,149.0 L441.8,142.9 L442.9,136.9 L444.1,131.1 L445.4,125.6 L446.8,120.2 L448.1,115.2 L449.4,110.3 L450.8,105.8 L452.1,101.5 L453.4,97.6 L454.7,93.9 L456.0,90.6 L457.3,87.6 L458.6,84.9 L459.9,82.5 L461.1,80.6 L462.4,78.9 L463.7,77.6 L465.0,76.7 L466.3,76.2 L467.6,76.0 L469.1,76.2 L470.7,76.7 L472.2,77.6 L473.8,78.9 L475.3,80.6 L476.9,82.5 L478.4,84.9 L480.0,87.6 L481.6,90.6 L483.2,93.9 L484.7,97.6 L486.3,101.5 L487.9,105.8 L489.5,110.3 L491.1,115.2 L492.8,120.2 L494.4,125.6 L496.0,131.1 L497.4,136.9 L498.7,142.9 L500.1,149.0 L501.4,155.3 L502.7,161.8 L504.0,168.4 L505.2,175.1 L506.5,181.9 L507.7,188.8 L508.9,195.7 L510.0,202.7 L511.2,209.7 L512.7,216.7 L514.2,223.7 L515.8,230.6 L517.3,237.5 L518.9,244.3 L520.5,251.0 L522.2,257.6 L523.9,264.1 L525.6,270.4 L527.3,276.6 L529.1,282.5 L531.0,288.3 L532.9,293.8 L534.9,299.2 L536.9,304.2 L539.0,309.1 L541.2,313.6 L543.6,317.9 L546.0,321.8 L548.6,325.5 L551.4,328.8 L554.3,331.8 L557.5,334.5 L561.0,336.9 L564.8,338.8 L568.9,340.5 L573.4,341.8 L578.0,342.7 L581.9,343.2 L583.5,343.4 L585.0,343.4 L586.5,343.4 L588.0,343.4 L589.5,343.4 L591.0,343.4 L592.5,343.4 L594.0,343.4 L595.5,343.4 L597.0,343.4 L598.5,343.4 L600.0,343.4 L601.5,343.4 L603.0,343.4 L604.5,343.4 L606.0,343.4 L607.5,343.4 L609.0,343.4 L610.5,343.4 L612.0,343.0 L613.5,342.3 L615.0,341.7 L616.5,341.2 L618.0,340.7 L619.5,340.2 L621.0,339.7 L622.5,339.2 L624.0,338.8 L625.5,338.4 L627.0,338.1 L628.5,337.7 L630.0,337.4 L631.5,337.1 L633.0,336.8 L634.5,336.5 L636.0,336.2 L637.5,336.0 L639.0,335.8 L640.5,335.5 L642.0,335.3 L643.5,335.1 L645.0,334.9 L646.5,334.8 L648.0,334.6 L649.5,334.4 L651.0,334.3 L652.5,334.2 L654.0,334.0 L655.5,333.9 L657.0,333.8 L658.5,333.7 L660.0,333.6 L661.5,333.5 L663.0,333.4 L664.5,333.3 L666.0,333.2 L667.5,333.1 L669.0,333.1 L670.5,333.0 L672.0,332.9 L672.5,332.9" fill="none" stroke="#5f7530" stroke-width="2.85" stroke-linejoin="round" stroke-linecap="round" />
<path d="M257.3,342.8 L258.8,343.1 L260.3,343.4 L261.8,343.7 L263.3,343.7 L264.8,343.7 L266.3,343.7 L267.8,343.7 L269.3,343.7 L270.8,343.7 L272.3,343.7 L273.8,343.7 L275.3,343.7 L276.8,343.7 L278.3,343.7 L279.8,343.7 L281.3,343.7 L282.8,343.7 L284.3,343.7 L285.8,343.7 L287.3,343.7 L288.8,343.7 L290.3,343.7 L291.8,343.7 L293.3,343.7 L294.8,343.7 L296.3,343.7 L297.8,343.7 L299.3,343.7 L300.8,343.7 L302.3,343.7 L303.8,343.7 L305.3,343.7 L306.8,343.7 L308.3,343.7 L309.8,343.7 L311.3,343.7 L312.8,343.7 L314.3,343.7 L315.8,343.7 L317.3,343.7 L318.8,343.7 L320.3,343.7 L321.8,343.7 L323.3,343.7 L324.8,343.7 L326.3,343.7 L327.8,343.7 L329.3,343.7 L330.8,343.7 L332.3,343.7 L333.8,343.7 L335.3,343.7 L336.8,343.7 L338.3,343.7 L339.8,343.7 L341.3,343.7 L342.8,343.6 L344.3,343.6 L345.8,343.5 L347.3,343.5 L348.8,343.4 L350.3,343.3 L351.8,343.2 L353.3,343.0 L354.8,342.8 L356.3,342.7 L357.8,342.5 L359.3,342.3 L360.8,342.2 L362.3,342.0 L363.8,341.9 L365.3,341.9 L366.8,341.9 L368.3,342.0 L369.8,342.1 L371.3,342.3 L372.8,342.5 L374.3,342.8 L375.8,343.1 L377.3,343.4 L378.8,343.7 L380.3,344.0 L381.8,344.3 L383.3,344.6 L384.1,344.8 L385.3,344.7 L387.9,344.3 L391.0,343.2 L394.0,341.5 L396.6,339.4 L399.0,337.0 L401.1,334.2 L403.0,331.2 L404.7,327.8 L406.2,324.1 L407.5,320.1 L408.8,315.7 L409.9,311.1 L411.0,306.1 L412.0,300.8 L413.4,295.2 L414.8,289.4 L416.2,283.3 L417.5,277.0 L418.8,270.5 L420.0,263.7 L421.3,256.8 L422.4,249.7 L423.6,242.5 L424.8,235.2 L425.9,227.7 L427.1,220.2 L428.2,212.6 L429.4,204.9 L430.5,197.3 L431.5,189.6 L432.6,181.9 L433.6,174.3 L434.7,166.8 L435.8,159.3 L436.9,152.0 L438.0,144.8 L439.1,137.7 L440.3,130.8 L441.4,124.0 L442.6,117.5 L443.8,111.2 L445.1,105.1 L446.5,99.3 L447.8,93.7 L449.2,88.4 L450.5,83.4 L451.9,78.8 L453.2,74.4 L454.5,70.4 L455.8,66.8 L457.1,63.5 L458.4,60.5 L459.7,58.0 L461.0,55.8 L462.3,54.0 L463.6,52.6 L464.9,51.6 L466.2,51.0 L467.5,50.8 L469.1,51.0 L470.8,51.6 L472.4,52.6 L474.0,54.0 L475.6,55.8 L477.3,58.0 L478.9,60.5 L480.6,63.5 L482.2,66.8 L483.9,70.4 L485.5,74.4 L487.2,78.8 L488.8,83.4 L490.5,88.4 L492.2,93.7 L493.9,99.3 L495.6,105.1 L497.3,111.2 L498.7,117.5 L500.1,124.0 L501.5,130.8 L502.9,137.7 L504.2,144.8 L505.5,152.0 L506.8,159.3 L508.0,166.8 L509.2,174.3 L510.4,181.9 L511.6,189.6 L512.8,197.3 L514.3,204.9 L515.9,212.6 L517.5,220.2 L519.2,227.7 L520.8,235.2 L522.5,242.5 L524.2,249.7 L526.0,256.8 L527.8,263.7 L529.6,270.5 L531.5,277.0 L533.4,283.3 L535.4,289.4 L537.5,295.2 L539.6,300.8 L541.9,306.1 L544.2,311.1 L546.7,315.7 L549.3,320.1 L552.1,324.1 L555.0,327.7 L558.2,331.0 L561.5,334.0 L565.2,336.5 L569.2,338.7 L573.6,340.5 L578.3,341.9 L583.1,342.9 L587.1,343.5 L588.9,343.7 L590.4,343.7 L591.9,343.7 L593.4,343.7 L594.9,343.7 L596.4,343.7 L597.9,343.7 L599.4,343.7 L600.9,343.7 L602.4,343.7 L603.9,343.7 L605.4,343.7 L606.9,343.7 L608.4,343.7 L609.9,343.7 L611.4,343.5 L612.9,342.8 L614.4,342.2 L615.9,341.5 L617.4,340.9 L618.9,340.4 L620.4,339.9 L621.9,339.4 L623.4,338.9 L624.9,338.4 L626.4,338.0 L627.9,337.6 L629.4,337.3 L630.9,336.9 L632.4,336.6 L633.9,336.3 L635.4,336.0 L636.9,335.7 L638.4,335.4 L639.9,335.2 L641.4,334.9 L642.9,334.7 L644.4,334.5 L645.9,334.3 L647.4,334.1 L648.9,334.0 L650.4,333.8 L651.9,333.6 L653.4,333.5 L654.9,333.3 L656.4,333.2 L657.9,333.1 L659.4,333.0 L660.9,332.9 L662.4,332.8 L663.9,332.7 L665.4,332.6 L666.9,332.5 L668.4,332.4 L669.9,332.3 L671.4,332.2 L672.5,332.2" fill="none" stroke="#4d3b62" stroke-width="2.85" stroke-linejoin="round" stroke-linecap="round" />
<path d="M257.3,343.7 L258.8,344.0 L260.3,344.3 L261.8,344.6 L263.3,344.6 L264.8,344.6 L266.3,344.6 L267.8,344.6 L269.3,344.6 L270.8,344.6 L272.3,344.6 L273.8,344.6 L275.3,344.6 L276.8,344.6 L278.3,344.6 L279.8,344.6 L281.3,344.6 L282.8,344.6 L284.3,344.6 L285.8,344.6 L287.3,344.6 L288.8,344.6 L290.3,344.6 L291.8,344.6 L293.3,344.6 L294.8,344.6 L296.3,344.6 L297.8,344.6 L299.3,344.6 L300.8,344.6 L302.3,344.6 L303.8,344.6 L305.3,344.6 L306.8,344.6 L308.3,344.6 L309.8,344.6 L311.3,344.6 L312.8,344.6 L314.3,344.6 L315.8,344.6 L317.3,344.6 L318.8,344.6 L320.3,344.6 L321.8,344.6 L323.3,344.6 L324.8,344.6 L326.3,344.6 L327.8,344.6 L329.3,344.6 L330.8,344.6 L332.3,344.6 L333.8,344.6 L335.3,344.6 L336.8,344.6 L338.3,344.6 L339.8,344.6 L341.3,344.6 L342.8,344.5 L344.3,344.5 L345.8,344.4 L347.3,344.4 L348.8,344.3 L350.3,344.2 L351.8,344.1 L353.3,343.9 L354.8,343.7 L356.3,343.6 L357.8,343.4 L359.3,343.2 L360.8,343.1 L362.3,342.9 L363.8,342.8 L365.3,342.8 L366.8,342.8 L368.3,342.9 L369.8,343.0 L371.3,343.2 L372.8,343.4 L374.3,343.7 L375.8,344.0 L377.3,344.3 L378.8,344.6 L380.3,344.9 L381.4,345.2 L382.6,345.4 L385.5,345.7 L388.8,345.7 L392.0,345.3 L394.9,344.7 L397.6,344.1 L400.0,343.4 L402.2,342.8 L404.2,342.2 L406.0,341.6 L407.7,340.9 L409.3,340.2 L410.7,339.5 L412.1,338.7 L413.4,337.9 L415.0,337.0 L416.6,336.1 L418.1,335.1 L419.5,334.1 L420.9,333.1 L422.3,332.1 L423.7,331.0 L425.0,329.9 L426.3,328.7 L427.5,327.6 L428.8,326.4 L430.0,325.2 L431.2,324.0 L432.4,322.9 L433.6,321.7 L434.8,320.4 L435.9,319.3 L437.1,318.1 L438.2,316.9 L439.4,315.7 L440.5,314.6 L441.7,313.4 L442.8,312.3 L443.9,311.2 L445.1,310.2 L446.2,309.2 L447.3,308.2 L448.5,307.2 L449.7,306.3 L450.9,305.4 L452.0,304.6 L453.2,303.8 L454.4,303.1 L455.5,302.4 L456.7,301.8 L457.8,301.2 L458.9,300.7 L460.1,300.2 L461.2,299.8 L462.4,299.5 L463.5,299.2 L464.6,299.0 L465.7,298.8 L466.9,298.7 L468.0,298.7 L469.1,298.7 L470.3,298.8 L471.4,299.0 L472.5,299.2 L473.6,299.5 L474.8,299.8 L475.9,300.2 L477.0,300.7 L478.2,301.2 L479.3,301.8 L480.5,302.4 L481.6,303.1 L482.8,303.8 L484.0,304.6 L485.1,305.4 L486.3,306.3 L487.5,307.2 L488.7,308.2 L489.8,309.2 L490.9,310.2 L492.1,311.2 L493.2,312.3 L494.3,313.4 L495.5,314.6 L496.6,315.7 L497.8,316.9 L498.9,318.1 L500.1,319.3 L501.2,320.4 L502.4,321.6 L503.6,322.9 L504.7,324.0 L505.9,325.2 L507.0,326.4 L508.2,327.6 L509.4,328.7 L510.7,329.9 L511.9,331.0 L513.2,332.1 L514.5,333.1 L515.8,334.1 L517.2,335.1 L518.6,336.1 L520.1,337.0 L521.6,337.9 L522.9,338.7 L524.2,339.5 L525.7,340.2 L527.2,340.9 L528.9,341.5 L530.7,342.1 L532.6,342.6 L534.7,343.1 L537.1,343.5 L539.7,343.8 L542.5,344.1 L545.7,344.3 L548.9,344.5 L551.7,344.6 L552.9,344.6 L554.4,344.6 L555.9,344.6 L557.4,344.6 L558.9,344.6 L560.4,344.6 L561.9,344.6 L563.4,344.6 L564.9,344.6 L566.4,344.6 L567.9,344.6 L569.4,344.6 L570.9,344.6 L572.4,344.6 L573.9,344.6 L575.4,344.6 L576.9,344.6 L578.4,344.6 L579.9,344.6 L581.4,344.6 L582.9,344.6 L584.4,344.6 L585.9,344.6 L587.4,344.6 L588.9,344.6 L590.4,344.6 L591.9,344.6 L593.4,344.6 L594.9,344.6 L596.4,344.6 L597.9,344.6 L599.4,344.6 L600.9,344.6 L602.4,344.6 L603.9,344.6 L605.4,344.6 L606.9,344.6 L608.4,344.6 L609.9,344.6 L611.4,344.6 L612.9,344.5 L614.4,344.4 L615.9,344.3 L617.4,344.2 L618.9,344.1 L620.4,344.0 L621.9,343.9 L623.4,343.8 L624.9,343.8 L626.4,343.7 L627.9,343.6 L629.4,343.6 L630.9,343.5 L632.4,343.5 L633.9,343.4 L635.4,343.4 L636.9,343.3 L638.4,343.3 L639.9,343.3 L641.4,343.2 L642.9,343.2 L644.4,343.2 L645.9,343.1 L647.4,343.1 L648.9,343.1 L650.4,343.0 L651.9,343.0 L653.4,343.0 L654.9,343.0 L656.4,343.0 L657.9,342.9 L659.4,342.9 L660.9,342.9 L662.4,342.9 L663.9,342.9 L665.4,342.9 L666.9,342.8 L668.4,342.8 L669.9,342.8 L671.4,342.8 L672.5,342.8" fill="none" stroke="#25677a" stroke-width="2.85" stroke-linejoin="round" stroke-linecap="round" />
<path d="M257.3,343.0 L258.8,343.3 L260.3,343.6 L261.8,343.9 L263.3,343.9 L264.8,343.9 L266.3,343.9 L267.8,343.9 L269.3,343.9 L270.8,343.9 L272.3,343.9 L273.8,343.9 L275.3,343.9 L276.8,343.9 L278.3,343.9 L279.8,343.9 L281.3,343.9 L282.8,343.9 L284.3,343.9 L285.8,343.9 L287.3,343.9 L288.8,343.9 L290.3,343.9 L291.8,343.9 L293.3,343.9 L294.8,343.9 L296.3,343.9 L297.8,343.9 L299.3,343.9 L300.8,343.9 L302.3,343.9 L303.8,343.9 L305.3,343.9 L306.8,343.9 L308.3,343.9 L309.8,343.9 L311.3,343.9 L312.8,343.9 L314.3,343.9 L315.8,343.9 L317.3,343.9 L318.8,343.9 L320.3,343.9 L321.8,343.9 L323.3,343.9 L324.8,343.9 L326.3,343.9 L327.8,343.9 L329.3,343.9 L330.8,343.9 L332.3,343.9 L333.8,343.9 L335.3,343.9 L336.8,343.9 L338.3,343.9 L339.8,343.9 L341.3,343.9 L342.8,343.8 L344.3,343.8 L345.8,343.7 L347.3,343.7 L348.8,343.6 L350.3,343.5 L351.8,343.4 L353.3,343.2 L354.8,343.0 L356.3,342.9 L357.8,342.7 L359.3,342.5 L360.8,342.4 L362.3,342.2 L363.8,342.1 L365.3,342.1 L366.8,342.1 L368.3,342.2 L369.8,342.3 L371.3,342.5 L372.8,342.7 L374.3,343.0 L375.8,343.3 L377.3,343.6 L378.8,343.9 L380.3,344.2 L381.0,344.4 L382.2,344.6 L385.1,344.9 L388.4,344.9 L391.6,344.4 L394.6,343.6 L397.2,342.8 L399.7,341.9 L401.8,341.0 L403.8,340.1 L405.7,339.1 L407.4,338.1 L409.0,337.0 L410.5,335.9 L411.9,334.6 L413.2,333.3 L414.8,332.0 L416.3,330.5 L417.8,329.0 L419.2,327.5 L420.6,325.9 L421.9,324.2 L423.3,322.5 L424.6,320.8 L425.8,319.0 L427.1,317.2 L428.3,315.3 L429.5,313.5 L430.7,311.6 L431.9,309.7 L433.1,307.9 L434.3,306.0 L435.4,304.1 L436.6,302.2 L437.7,300.4 L438.9,298.5 L440.0,296.7 L441.2,294.9 L442.3,293.2 L443.5,291.5 L444.6,289.8 L445.8,288.2 L446.9,286.7 L448.1,285.2 L449.3,283.7 L450.5,282.4 L451.7,281.1 L452.9,279.8 L454.1,278.7 L455.2,277.6 L456.4,276.6 L457.6,275.7 L458.7,274.9 L459.9,274.2 L461.0,273.6 L462.2,273.0 L463.4,272.6 L464.5,272.2 L465.7,272.0 L466.8,271.8 L467.9,271.8 L469.1,271.8 L470.2,272.0 L471.4,272.2 L472.5,272.6 L473.7,273.0 L474.8,273.6 L476.0,274.2 L477.1,274.9 L478.3,275.7 L479.5,276.6 L480.6,277.6 L481.8,278.7 L483.0,279.8 L484.2,281.1 L485.3,282.4 L486.5,283.7 L487.7,285.2 L488.9,286.7 L490.1,288.2 L491.2,289.8 L492.4,291.5 L493.5,293.2 L494.7,294.9 L495.8,296.7 L497.0,298.5 L498.1,300.4 L499.3,302.2 L500.4,304.1 L501.6,306.0 L502.7,307.9 L503.9,309.7 L505.1,311.6 L506.2,313.5 L507.4,315.3 L508.6,317.2 L509.9,319.0 L511.1,320.8 L512.4,322.5 L513.7,324.2 L515.0,325.9 L516.3,327.5 L517.7,329.0 L519.2,330.5 L520.6,332.0 L522.2,333.3 L523.5,334.6 L524.9,335.9 L526.4,337.0 L528.0,338.1 L529.7,339.1 L531.5,340.0 L533.5,340.8 L535.7,341.5 L538.1,342.1 L540.7,342.7 L543.6,343.1 L546.8,343.5 L550.1,343.7 L553.0,343.9 L554.2,343.9 L555.7,343.9 L557.2,343.9 L558.7,343.9 L560.2,343.9 L561.7,343.9 L563.2,343.9 L564.7,343.9 L566.2,343.9 L567.7,343.9 L569.2,343.9 L570.7,343.9 L572.2,343.9 L573.7,343.9 L575.2,343.9 L576.7,343.9 L578.2,343.9 L579.7,343.9 L581.2,343.9 L582.7,343.9 L584.2,343.9 L585.7,343.9 L587.2,343.9 L588.7,343.9 L590.2,343.9 L591.7,343.9 L593.2,343.9 L594.7,343.9 L596.2,343.9 L597.7,343.9 L599.2,343.9 L600.7,343.9 L602.2,343.9 L603.7,343.9 L605.2,343.9 L606.7,343.9 L608.2,343.9 L609.7,343.9 L611.2,343.9 L612.7,343.7 L614.2,343.5 L615.7,343.4 L617.2,343.2 L618.7,343.1 L620.2,343.0 L621.7,342.8 L623.2,342.7 L624.7,342.6 L626.2,342.5 L627.7,342.4 L629.2,342.3 L630.7,342.2 L632.2,342.2 L633.7,342.1 L635.2,342.0 L636.7,341.9 L638.2,341.9 L639.7,341.8 L641.2,341.8 L642.7,341.7 L644.2,341.6 L645.7,341.6 L647.2,341.6 L648.7,341.5 L650.2,341.5 L651.7,341.4 L653.2,341.4 L654.7,341.4 L656.2,341.3 L657.7,341.3 L659.2,341.3 L660.7,341.2 L662.2,341.2 L663.7,341.2 L665.2,341.2 L666.7,341.1 L668.2,341.1 L669.7,341.1 L671.2,341.1 L672.5,341.1" fill="none" stroke="#b65c10" stroke-width="2.85" stroke-linejoin="round" stroke-linecap="round" />
<text x="20.85" y="468.30" font-size="27.5" textLength="38.91" lengthAdjust="spacingAndGlyphs" fill="#000" >(B)</text>
<line x1="171.40" y1="456.90" x2="171.40" y2="643.80" stroke="#000" stroke-width="3" stroke-linecap="butt"/>
<line x1="166.50" y1="642.30" x2="171.40" y2="642.30" stroke="#000" stroke-width="2.6" stroke-linecap="butt"/>
<text x="148.05" y="646.88" font-size="16.5" textLength="8.53" lengthAdjust="spacingAndGlyphs" fill="#000" >0</text>
<line x1="166.50" y1="605.45" x2="171.40" y2="605.45" stroke="#000" stroke-width="2.6" stroke-linecap="butt"/>
<text x="147.85" y="610.14" font-size="16.5" textLength="8.53" lengthAdjust="spacingAndGlyphs" fill="#000" >1</text>
<line x1="166.50" y1="568.60" x2="171.40" y2="568.60" stroke="#000" stroke-width="2.6" stroke-linecap="butt"/>
<text x="148.03" y="573.40" font-size="16.5" textLength="8.53" lengthAdjust="spacingAndGlyphs" fill="#000" >2</text>
<line x1="166.50" y1="531.75" x2="171.40" y2="531.75" stroke="#000" stroke-width="2.6" stroke-linecap="butt"/>
<text x="147.97" y="536.66" font-size="16.5" textLength="8.53" lengthAdjust="spacingAndGlyphs" fill="#000" >3</text>
<line x1="166.50" y1="494.90" x2="171.40" y2="494.90" stroke="#000" stroke-width="2.6" stroke-linecap="butt"/>
<text x="147.49" y="499.92" font-size="16.5" textLength="8.53" lengthAdjust="spacingAndGlyphs" fill="#000" >4</text>
<line x1="166.50" y1="458.05" x2="171.40" y2="458.05" stroke="#000" stroke-width="2.6" stroke-linecap="butt"/>
<text x="147.85" y="463.18" font-size="16.5" textLength="8.53" lengthAdjust="spacingAndGlyphs" fill="#000" >5</text>
<line x1="28.11" y1="642.30" x2="362.02" y2="642.30" stroke="#000" stroke-width="3" stroke-linecap="butt"/>
<line x1="29.41" y1="642.30" x2="29.41" y2="646.50" stroke="#000" stroke-width="2.6" stroke-linecap="butt"/>
<text x="12.12" y="667.85" font-size="17" textLength="34.03" lengthAdjust="spacingAndGlyphs" fill="#000" >-300</text>
<line x1="53.08" y1="642.30" x2="53.08" y2="646.50" stroke="#000" stroke-width="2.6" stroke-linecap="butt"/>
<line x1="76.74" y1="642.30" x2="76.74" y2="646.50" stroke="#000" stroke-width="2.6" stroke-linecap="butt"/>
<text x="59.45" y="667.85" font-size="17" textLength="34.03" lengthAdjust="spacingAndGlyphs" fill="#000" >-200</text>
<line x1="100.41" y1="642.30" x2="100.41" y2="646.50" stroke="#000" stroke-width="2.6" stroke-linecap="butt"/>
<line x1="124.07" y1="642.30" x2="124.07" y2="646.50" stroke="#000" stroke-width="2.6" stroke-linecap="butt"/>
<text x="106.78" y="667.85" font-size="17" textLength="34.03" lengthAdjust="spacingAndGlyphs" fill="#000" >-100</text>
<line x1="147.74" y1="642.30" x2="147.74" y2="646.50" stroke="#000" stroke-width="2.6" stroke-linecap="butt"/>
<line x1="171.40" y1="642.30" x2="171.40" y2="646.50" stroke="#000" stroke-width="2.6" stroke-linecap="butt"/>
<text x="166.68" y="667.85" font-size="17" textLength="9.45" lengthAdjust="spacingAndGlyphs" fill="#000" >0</text>
<line x1="195.06" y1="642.30" x2="195.06" y2="646.50" stroke="#000" stroke-width="2.6" stroke-linecap="butt"/>
<line x1="218.73" y1="642.30" x2="218.73" y2="646.50" stroke="#000" stroke-width="2.6" stroke-linecap="butt"/>
<text x="204.37" y="667.85" font-size="17" textLength="28.36" lengthAdjust="spacingAndGlyphs" fill="#000" >100</text>
<line x1="242.40" y1="642.30" x2="242.40" y2="646.50" stroke="#000" stroke-width="2.6" stroke-linecap="butt"/>
<line x1="266.06" y1="642.30" x2="266.06" y2="646.50" stroke="#000" stroke-width="2.6" stroke-linecap="butt"/>
<text x="251.93" y="667.85" font-size="17" textLength="28.36" lengthAdjust="spacingAndGlyphs" fill="#000" >200</text>
<line x1="289.73" y1="642.30" x2="289.73" y2="646.50" stroke="#000" stroke-width="2.6" stroke-linecap="butt"/>
<line x1="313.39" y1="642.30" x2="313.39" y2="646.50" stroke="#000" stroke-width="2.6" stroke-linecap="butt"/>
<text x="299.36" y="667.85" font-size="17" textLength="28.36" lengthAdjust="spacingAndGlyphs" fill="#000" >300</text>
<line x1="337.06" y1="642.30" x2="337.06" y2="646.50" stroke="#000" stroke-width="2.6" stroke-linecap="butt"/>
<line x1="360.72" y1="642.30" x2="360.72" y2="646.50" stroke="#000" stroke-width="2.6" stroke-linecap="butt"/>
<text x="346.76" y="667.85" font-size="17" textLength="28.36" lengthAdjust="spacingAndGlyphs" fill="#000" >400</text>
<line x1="171.40" y1="577.00" x2="171.40" y2="583.00" stroke="#000" stroke-width="1.6" stroke-linecap="butt"/>
<line x1="168.60" y1="577.00" x2="174.20" y2="577.00" stroke="#000" stroke-width="1.6" stroke-linecap="butt"/>
<line x1="168.60" y1="583.00" x2="174.20" y2="583.00" stroke="#000" stroke-width="1.6" stroke-linecap="butt"/>
<ellipse cx="171.4" cy="580.0" rx="4.6" ry="4.8" fill="#000"/>
<line x1="218.73" y1="538.50" x2="218.73" y2="553.10" stroke="#000" stroke-width="1.6" stroke-linecap="butt"/>
<line x1="215.93" y1="538.50" x2="221.53" y2="538.50" stroke="#000" stroke-width="1.6" stroke-linecap="butt"/>
<line x1="215.93" y1="553.10" x2="221.53" y2="553.10" stroke="#000" stroke-width="1.6" stroke-linecap="butt"/>
<ellipse cx="218.7" cy="545.8" rx="4.6" ry="4.8" fill="#000"/>
<line x1="266.06" y1="514.90" x2="266.06" y2="532.90" stroke="#000" stroke-width="1.6" stroke-linecap="butt"/>
<line x1="263.26" y1="514.90" x2="268.86" y2="514.90" stroke="#000" stroke-width="1.6" stroke-linecap="butt"/>
<line x1="263.26" y1="532.90" x2="268.86" y2="532.90" stroke="#000" stroke-width="1.6" stroke-linecap="butt"/>
<ellipse cx="266.1" cy="523.9" rx="4.6" ry="4.8" fill="#000"/>
<line x1="313.39" y1="488.00" x2="313.39" y2="508.40" stroke="#000" stroke-width="1.6" stroke-linecap="butt"/>
<line x1="310.59" y1="488.00" x2="316.19" y2="488.00" stroke="#000" stroke-width="1.6" stroke-linecap="butt"/>
<line x1="310.59" y1="508.40" x2="316.19" y2="508.40" stroke="#000" stroke-width="1.6" stroke-linecap="butt"/>
<ellipse cx="313.4" cy="498.2" rx="4.6" ry="4.8" fill="#000"/>
<line x1="56.30" y1="642.30" x2="313.39" y2="497.20" stroke="#ad2228" stroke-width="2.2" stroke-linecap="butt"/>
<text transform="translate(123.60,595.10) rotate(-90)" x="-0.56" y="0" font-size="19.5" textLength="117.01" lengthAdjust="spacingAndGlyphs">Current (μA)</text>
<text x="72.05" y="698.30" font-size="19.8" textLength="132.77" lengthAdjust="spacingAndGlyphs" fill="#000" >Concentration</text>
<text x="213.22" y="698.30" font-size="19.8" textLength="75.67" lengthAdjust="spacingAndGlyphs" fill="#000" >(μmol L</text>
<text x="291.02" y="691.80" font-size="12.5" textLength="9.84" lengthAdjust="spacingAndGlyphs" fill="#000" >-1</text>
<text x="304.23" y="698.30" font-size="19.8" textLength="5.41" lengthAdjust="spacingAndGlyphs" fill="#000" >)</text>
<line x1="203.40" y1="817.00" x2="739.50" y2="817.00" stroke="#000" stroke-width="3" stroke-linecap="butt"/>
<line x1="204.90" y1="817.00" x2="204.90" y2="822.00" stroke="#000" stroke-width="2.8" stroke-linecap="butt"/>
<line x1="240.44" y1="817.00" x2="240.44" y2="822.00" stroke="#000" stroke-width="2.8" stroke-linecap="butt"/>
<line x1="275.98" y1="817.00" x2="275.98" y2="822.00" stroke="#000" stroke-width="2.8" stroke-linecap="butt"/>
<line x1="311.52" y1="817.00" x2="311.52" y2="822.00" stroke="#000" stroke-width="2.8" stroke-linecap="butt"/>
<line x1="347.06" y1="817.00" x2="347.06" y2="822.00" stroke="#000" stroke-width="2.8" stroke-linecap="butt"/>
<line x1="382.60" y1="817.00" x2="382.60" y2="822.00" stroke="#000" stroke-width="2.8" stroke-linecap="butt"/>
<line x1="418.14" y1="817.00" x2="418.14" y2="822.00" stroke="#000" stroke-width="2.8" stroke-linecap="butt"/>
<line x1="453.68" y1="817.00" x2="453.68" y2="822.00" stroke="#000" stroke-width="2.8" stroke-linecap="butt"/>
<line x1="489.22" y1="817.00" x2="489.22" y2="822.00" stroke="#000" stroke-width="2.8" stroke-linecap="butt"/>
<line x1="524.76" y1="817.00" x2="524.76" y2="822.00" stroke="#000" stroke-width="2.8" stroke-linecap="butt"/>
<line x1="560.30" y1="817.00" x2="560.30" y2="822.00" stroke="#000" stroke-width="2.8" stroke-linecap="butt"/>
<line x1="595.84" y1="817.00" x2="595.84" y2="822.00" stroke="#000" stroke-width="2.8" stroke-linecap="butt"/>
<line x1="631.38" y1="817.00" x2="631.38" y2="822.00" stroke="#000" stroke-width="2.8" stroke-linecap="butt"/>
<line x1="666.92" y1="817.00" x2="666.92" y2="822.00" stroke="#000" stroke-width="2.8" stroke-linecap="butt"/>
<line x1="702.46" y1="817.00" x2="702.46" y2="822.00" stroke="#000" stroke-width="2.8" stroke-linecap="butt"/>
<line x1="738.00" y1="817.00" x2="738.00" y2="822.00" stroke="#000" stroke-width="2.8" stroke-linecap="butt"/>
<text x="192.71" y="845.31" font-size="19.5" textLength="25.75" lengthAdjust="spacingAndGlyphs" fill="#000" >0.5</text>
<text x="377.93" y="845.31" font-size="19.5" textLength="10.30" lengthAdjust="spacingAndGlyphs" fill="#000" >1</text>
<text x="547.90" y="845.31" font-size="19.5" textLength="25.75" lengthAdjust="spacingAndGlyphs" fill="#000" >1.5</text>
<text x="731.70" y="845.31" font-size="19.5" textLength="10.30" lengthAdjust="spacingAndGlyphs" fill="#000" >2</text>
<text x="404.00" y="881.30" font-size="24" textLength="143.57" lengthAdjust="spacingAndGlyphs" fill="#000" >Potential (V)</text>
<line x1="602.90" y1="584.50" x2="602.90" y2="650.80" stroke="#000" stroke-width="2.6" stroke-linecap="butt"/>
<path d="M602.9,576.8 L607.5,585.5 L598.3,585.5Z" fill="#000"/>
<path d="M602.9,658.5 L607.5,649.8 L598.3,649.8Z" fill="#000"/>
<text x="617.00" y="626.20" font-size="20.5" textLength="46.30" lengthAdjust="spacingAndGlyphs" fill="#000" >1 μA</text>
<path d="M221.0,804.0 L222.5,804.2 L224.0,804.5 L225.5,804.7 L227.0,804.9 L228.5,805.2 L230.0,805.4 L231.5,805.7 L233.0,805.9 L234.5,806.1 L236.0,806.4 L237.5,806.6 L239.0,806.8 L240.5,807.0 L242.0,807.0 L243.5,807.0 L245.0,807.0 L246.5,807.0 L248.0,807.0 L249.5,807.0 L251.0,807.0 L252.5,807.0 L254.0,807.0 L255.5,807.0 L257.0,807.0 L258.5,807.0 L260.0,807.0 L261.5,807.0 L263.0,807.0 L264.5,807.0 L266.0,807.0 L267.5,807.0 L269.0,807.0 L270.5,807.0 L272.0,807.0 L273.5,807.0 L275.0,807.0 L276.5,807.0 L278.0,807.0 L279.5,807.0 L281.0,807.0 L282.5,807.0 L284.0,807.0 L285.5,807.0 L287.0,807.0 L288.5,807.0 L290.0,807.0 L291.5,807.0 L293.0,807.0 L294.5,807.0 L296.0,807.0 L297.5,807.0 L299.0,807.0 L300.5,807.0 L302.0,807.0 L303.5,807.0 L305.0,807.0 L306.5,807.0 L308.0,807.0 L309.5,807.0 L311.0,806.9 L312.5,806.9 L314.0,806.9 L315.5,806.8 L317.0,806.8 L318.5,806.7 L320.0,806.6 L321.5,806.5 L323.0,806.4 L324.5,806.3 L326.0,806.1 L327.5,805.9 L329.0,805.7 L330.5,805.5 L332.0,805.3 L333.5,805.1 L335.0,804.9 L336.5,804.7 L338.0,804.5 L339.5,804.4 L341.0,804.3 L342.5,804.2 L344.0,804.2 L345.5,804.2 L347.0,804.3 L348.5,804.4 L350.0,804.5 L351.5,804.7 L353.0,804.9 L354.5,805.1 L356.0,805.3 L357.5,805.5 L359.0,805.7 L360.5,806.0 L362.0,806.2 L363.2,806.4 L364.4,806.5 L367.3,806.7 L370.6,806.9 L373.8,806.8 L376.7,806.1 L379.4,804.9 L381.8,803.4 L384.0,801.7 L386.0,799.9 L387.8,798.0 L389.5,796.1 L391.1,794.0 L392.5,791.8 L393.9,789.4 L395.2,786.9 L396.6,784.3 L398.0,781.6 L399.2,778.8 L400.5,775.8 L401.7,772.8 L402.8,769.6 L404.0,766.4 L405.1,763.0 L406.2,759.7 L407.3,756.2 L408.4,752.7 L409.5,749.2 L410.6,745.7 L411.7,742.1 L412.8,738.5 L413.9,734.9 L415.1,731.3 L416.2,727.8 L417.4,724.3 L418.5,720.8 L419.7,717.3 L420.8,714.0 L422.0,710.6 L423.2,707.4 L424.4,704.2 L425.6,701.2 L426.8,698.2 L428.0,695.4 L429.2,692.7 L430.4,690.1 L431.6,687.6 L432.9,685.3 L434.1,683.1 L435.4,681.1 L436.7,679.2 L438.0,677.5 L439.2,675.9 L440.5,674.5 L441.9,673.4 L443.2,672.3 L444.5,671.5 L445.8,670.8 L447.1,670.4 L448.5,670.1 L449.8,670.0 L451.1,670.1 L452.5,670.4 L453.8,670.8 L455.1,671.5 L456.4,672.3 L457.7,673.4 L459.1,674.5 L460.4,675.9 L461.6,677.5 L462.9,679.2 L464.2,681.1 L465.5,683.1 L466.7,685.3 L468.0,687.6 L469.2,690.1 L470.4,692.7 L471.6,695.4 L472.8,698.2 L474.0,701.2 L475.2,704.2 L476.4,707.4 L477.6,710.6 L478.8,714.0 L479.9,717.3 L481.1,720.8 L482.2,724.3 L483.4,727.8 L484.5,731.3 L485.7,734.9 L486.8,738.5 L488.0,742.1 L489.3,745.7 L490.6,749.2 L491.9,752.7 L493.2,756.2 L494.5,759.7 L495.8,763.0 L497.2,766.4 L498.6,769.6 L500.0,772.7 L501.5,775.8 L503.0,778.8 L504.6,781.6 L506.2,784.3 L507.9,786.9 L509.7,789.3 L511.6,791.6 L513.7,793.7 L515.8,795.7 L518.0,797.5 L520.4,799.1 L523.0,800.6 L525.7,801.8 L528.7,802.9 L531.9,803.8 L535.5,804.5 L539.3,805.0 L543.1,805.3 L546.5,805.5 L547.9,805.6 L549.4,805.5 L550.9,805.5 L552.4,805.5 L553.9,805.4 L555.4,805.4 L556.9,805.4 L558.4,805.4 L559.9,805.4 L561.4,805.4 L562.9,805.4 L564.4,805.4 L565.9,805.4 L567.4,805.4 L568.9,805.4 L570.4,805.4 L571.9,805.4 L573.4,805.4 L574.9,805.4 L576.4,805.4 L577.9,805.4 L579.4,805.4 L580.9,805.4 L582.4,805.4 L583.9,805.4 L585.4,805.4 L586.9,805.4 L588.4,805.4 L589.9,805.4 L591.4,805.4 L592.9,805.4 L594.4,805.4 L595.9,805.4 L597.4,805.4 L598.9,805.4 L600.4,805.3 L601.9,805.1 L603.4,804.9 L604.9,804.7 L606.4,804.5 L607.9,804.4 L609.4,804.2 L610.9,804.0 L612.4,803.9 L613.9,803.7 L615.4,803.6 L616.9,803.5 L618.4,803.3 L619.9,803.2 L621.4,803.1 L622.9,803.0 L624.4,802.9 L625.9,802.8 L627.4,802.7 L628.9,802.6 L630.4,802.5 L631.9,802.5 L633.4,802.4 L634.9,802.3 L636.4,802.2 L637.9,802.2 L639.4,802.1 L640.9,802.1 L642.4,802.0 L643.9,801.9 L645.4,801.9 L646.9,801.8 L648.4,801.8 L649.9,801.8 L651.4,801.7 L652.9,801.7 L654.4,801.6 L655.9,801.6 L657.4,801.6 L658.9,801.5 L660.4,801.5 L661.9,801.5 L663.4,801.4 L664.9,801.4 L666.0,801.4" fill="none" stroke="#4f81bd" stroke-width="2.85" stroke-linejoin="round" stroke-linecap="round" />
<path d="M221.0,804.0 L222.5,804.2 L224.0,804.5 L225.5,804.7 L227.0,804.9 L228.5,805.2 L230.0,805.4 L231.5,805.7 L233.0,805.9 L234.5,806.1 L236.0,806.4 L237.5,806.6 L239.0,806.8 L240.5,807.0 L242.0,807.0 L243.5,807.0 L245.0,807.0 L246.5,807.0 L248.0,807.0 L249.5,807.0 L251.0,807.0 L252.5,807.0 L254.0,807.0 L255.5,807.0 L257.0,807.0 L258.5,807.0 L260.0,807.0 L261.5,807.0 L263.0,807.0 L264.5,807.0 L266.0,807.0 L267.5,807.0 L269.0,807.0 L270.5,807.0 L272.0,807.0 L273.5,807.0 L275.0,807.0 L276.5,807.0 L278.0,807.0 L279.5,807.0 L281.0,807.0 L282.5,807.0 L284.0,807.0 L285.5,807.0 L287.0,807.0 L288.5,807.0 L290.0,807.0 L291.5,807.0 L293.0,807.0 L294.5,807.0 L296.0,807.0 L297.5,807.0 L299.0,807.0 L300.5,807.0 L302.0,807.0 L303.5,807.0 L305.0,807.0 L306.5,807.0 L308.0,807.0 L309.5,807.0 L311.0,806.9 L312.5,806.9 L314.0,806.9 L315.5,806.8 L317.0,806.8 L318.5,806.7 L320.0,806.6 L321.5,806.5 L323.0,806.4 L324.5,806.3 L326.0,806.1 L327.5,805.9 L329.0,805.7 L330.5,805.5 L332.0,805.3 L333.5,805.1 L335.0,804.9 L336.5,804.7 L338.0,804.5 L339.5,804.4 L341.0,804.3 L342.5,804.2 L344.0,804.2 L345.5,804.2 L347.0,804.3 L348.5,804.4 L350.0,804.5 L351.5,804.7 L353.0,804.9 L354.5,805.1 L356.0,805.3 L357.5,805.5 L359.0,805.7 L360.5,806.0 L362.0,806.2 L363.9,806.5 L365.1,806.5 L367.9,806.6 L371.2,806.6 L374.4,806.0 L377.3,804.8 L380.0,802.9 L382.4,800.7 L384.6,798.3 L386.6,795.7 L388.5,792.9 L390.2,789.9 L391.8,786.7 L393.4,783.2 L394.8,779.6 L396.2,775.7 L397.5,771.7 L398.8,767.4 L400.0,763.0 L401.2,758.4 L402.3,753.6 L403.5,748.7 L404.5,743.7 L405.6,738.5 L406.7,733.2 L407.8,727.9 L408.8,722.4 L409.8,716.9 L410.9,711.4 L411.9,705.8 L413.0,700.2 L414.2,694.7 L415.4,689.1 L416.5,683.6 L417.7,678.1 L418.9,672.6 L420.1,667.3 L421.2,662.0 L422.4,656.8 L423.6,651.8 L424.8,646.9 L425.9,642.1 L427.1,637.5 L428.2,633.1 L429.3,628.8 L430.4,624.8 L431.5,620.9 L432.6,617.3 L433.8,613.9 L435.0,610.7 L436.2,607.8 L437.4,605.1 L438.6,602.7 L439.9,600.6 L441.1,598.7 L442.4,597.1 L443.6,595.8 L444.9,594.8 L446.2,594.1 L447.5,593.6 L448.8,593.5 L450.3,593.6 L451.8,594.1 L453.3,594.8 L454.8,595.8 L456.3,597.1 L457.8,598.7 L459.3,600.6 L460.8,602.7 L462.2,605.1 L463.7,607.8 L465.1,610.7 L466.5,613.9 L467.9,617.3 L469.2,620.9 L470.6,624.8 L471.9,628.8 L473.2,633.1 L474.5,637.5 L475.9,642.1 L477.3,646.9 L478.7,651.8 L480.1,656.8 L481.4,662.0 L482.8,667.3 L484.2,672.6 L485.6,678.1 L486.9,683.6 L488.3,689.1 L489.7,694.7 L491.1,700.2 L492.2,705.8 L493.2,711.4 L494.2,716.9 L495.3,722.4 L496.3,727.9 L497.3,733.2 L498.3,738.5 L499.4,743.7 L500.4,748.7 L501.5,753.6 L502.5,758.4 L503.7,763.0 L504.8,767.4 L506.0,771.6 L507.2,775.7 L509.1,779.5 L511.0,783.1 L512.9,786.4 L515.0,789.5 L517.2,792.4 L519.6,795.0 L522.1,797.3 L524.8,799.3 L527.8,801.1 L531.0,802.5 L534.5,803.7 L538.3,804.6 L542.2,805.2 L545.5,805.5 L546.9,805.6 L548.4,805.6 L549.9,805.5 L551.4,805.5 L552.9,805.5 L554.4,805.4 L555.9,805.4 L557.4,805.4 L558.9,805.4 L560.4,805.4 L561.9,805.4 L563.4,805.4 L564.9,805.4 L566.4,805.4 L567.9,805.4 L569.4,805.4 L570.9,805.4 L572.4,805.4 L573.9,805.4 L575.4,805.4 L576.9,805.4 L578.4,805.4 L579.9,805.4 L581.4,805.4 L582.9,805.4 L584.4,805.4 L585.9,805.4 L587.4,805.4 L588.9,805.4 L590.4,805.4 L591.9,805.4 L593.4,805.4 L594.9,805.4 L596.4,805.4 L597.9,805.4 L599.4,805.4 L600.9,805.2 L602.4,804.8 L603.9,804.4 L605.4,804.0 L606.9,803.7 L608.4,803.3 L609.9,803.0 L611.4,802.7 L612.9,802.5 L614.4,802.2 L615.9,801.9 L617.4,801.7 L618.9,801.5 L620.4,801.2 L621.9,801.0 L623.4,800.8 L624.9,800.6 L626.4,800.5 L627.9,800.3 L629.4,800.1 L630.9,800.0 L632.4,799.8 L633.9,799.7 L635.4,799.6 L636.9,799.4 L638.4,799.3 L639.9,799.2 L641.4,799.1 L642.9,799.0 L644.4,798.9 L645.9,798.8 L647.4,798.7 L648.9,798.6 L650.4,798.5 L651.9,798.5 L653.4,798.4 L654.9,798.3 L656.4,798.3 L657.9,798.2 L659.4,798.1 L660.9,798.1 L662.4,798.0 L663.9,798.0 L665.4,797.9 L666.0,797.9" fill="none" stroke="#c0504d" stroke-width="2.85" stroke-linejoin="round" stroke-linecap="round" />
<path d="M221.0,804.0 L222.5,804.2 L224.0,804.5 L225.5,804.7 L227.0,804.9 L228.5,805.2 L230.0,805.4 L231.5,805.7 L233.0,805.9 L234.5,806.1 L236.0,806.4 L237.5,806.6 L239.0,806.8 L240.5,807.0 L242.0,807.0 L243.5,807.0 L245.0,807.0 L246.5,807.0 L248.0,807.0 L249.5,807.0 L251.0,807.0 L252.5,807.0 L254.0,807.0 L255.5,807.0 L257.0,807.0 L258.5,807.0 L260.0,807.0 L261.5,807.0 L263.0,807.0 L264.5,807.0 L266.0,807.0 L267.5,807.0 L269.0,807.0 L270.5,807.0 L272.0,807.0 L273.5,807.0 L275.0,807.0 L276.5,807.0 L278.0,807.0 L279.5,807.0 L281.0,807.0 L282.5,807.0 L284.0,807.0 L285.5,807.0 L287.0,807.0 L288.5,807.0 L290.0,807.0 L291.5,807.0 L293.0,807.0 L294.5,807.0 L296.0,807.0 L297.5,807.0 L299.0,807.0 L300.5,807.0 L302.0,807.0 L303.5,807.0 L305.0,807.0 L306.5,807.0 L308.0,807.0 L309.5,807.0 L311.0,806.9 L312.5,806.9 L314.0,806.9 L315.5,806.8 L317.0,806.8 L318.5,806.7 L320.0,806.6 L321.5,806.5 L323.0,806.4 L324.5,806.3 L326.0,806.1 L327.5,805.9 L329.0,805.7 L330.5,805.5 L332.0,805.3 L333.5,805.1 L335.0,804.9 L336.5,804.7 L338.0,804.5 L339.5,804.4 L341.0,804.3 L342.5,804.2 L344.0,804.2 L345.5,804.2 L347.0,804.3 L348.5,804.4 L350.0,804.5 L351.5,804.7 L353.0,804.9 L354.5,805.1 L356.0,805.3 L357.5,805.5 L359.0,805.7 L360.5,806.0 L362.0,806.2 L363.5,806.4 L365.3,806.7 L366.5,806.8 L369.2,806.8 L372.4,806.5 L375.5,805.5 L378.4,803.8 L381.0,801.6 L383.4,798.9 L385.5,796.0 L387.5,792.9 L389.3,789.5 L391.0,785.8 L392.6,781.9 L394.1,777.6 L395.5,773.1 L396.9,768.4 L398.3,763.4 L399.6,758.1 L400.9,752.6 L402.1,747.0 L403.3,741.1 L404.5,735.0 L405.7,728.8 L406.8,722.4 L407.9,715.9 L409.1,709.3 L410.1,702.6 L411.2,695.8 L412.3,688.9 L413.4,682.1 L414.4,675.1 L415.6,668.2 L416.8,661.4 L417.9,654.5 L419.1,647.7 L420.2,641.0 L421.4,634.4 L422.5,627.9 L423.7,621.5 L424.8,615.3 L425.9,609.2 L427.0,603.3 L428.2,597.7 L429.2,592.2 L430.2,586.9 L431.2,581.9 L432.2,577.2 L433.3,572.7 L434.4,568.5 L435.5,564.6 L436.6,561.0 L437.7,557.7 L438.9,554.7 L440.1,552.1 L441.3,549.8 L442.4,547.8 L443.6,546.2 L444.9,544.9 L446.1,544.0 L447.3,543.5 L448.5,543.3 L450.0,543.5 L451.4,544.0 L452.9,544.9 L454.3,546.2 L455.8,547.8 L457.2,549.8 L458.6,552.1 L460.0,554.7 L461.4,557.7 L462.8,561.0 L464.2,564.6 L465.5,568.5 L466.9,572.7 L468.2,577.2 L469.5,581.9 L470.7,586.9 L472.0,592.2 L473.2,597.7 L474.6,603.3 L475.9,609.2 L477.3,615.3 L478.6,621.5 L480.0,627.9 L481.4,634.4 L482.7,641.0 L484.1,647.7 L485.5,654.5 L486.8,661.4 L488.2,668.2 L489.6,675.2 L490.9,682.1 L492.3,688.9 L493.6,695.8 L495.0,702.6 L496.4,709.3 L497.8,715.9 L499.2,722.4 L500.6,728.8 L502.1,735.0 L503.6,741.1 L505.1,746.9 L506.7,752.6 L508.4,758.0 L510.1,763.3 L511.8,768.2 L513.7,772.9 L515.6,777.3 L517.6,781.5 L519.8,785.3 L522.1,788.8 L524.5,792.0 L527.2,794.9 L530.0,797.4 L533.1,799.6 L536.5,801.5 L540.2,802.9 L544.2,804.1 L548.3,804.8 L551.8,805.3 L553.3,805.5 L554.8,805.4 L556.3,805.4 L557.8,805.4 L559.3,805.4 L560.8,805.4 L562.3,805.4 L563.8,805.4 L565.3,805.4 L566.8,805.4 L568.3,805.4 L569.8,805.4 L571.3,805.4 L572.8,805.4 L574.3,805.4 L575.8,805.4 L577.3,805.4 L578.8,805.4 L580.3,805.4 L581.8,805.4 L583.3,805.4 L584.8,805.4 L586.3,805.4 L587.8,805.4 L589.3,805.4 L590.8,805.4 L592.3,805.4 L593.8,805.4 L595.3,805.4 L596.8,805.4 L598.3,805.4 L599.8,805.4 L601.3,804.9 L602.8,804.3 L604.3,803.8 L605.8,803.2 L607.3,802.7 L608.8,802.3 L610.3,801.8 L611.8,801.4 L613.3,801.0 L614.8,800.6 L616.3,800.2 L617.8,799.9 L619.3,799.5 L620.8,799.2 L622.3,798.9 L623.8,798.6 L625.3,798.4 L626.8,798.1 L628.3,797.9 L629.8,797.6 L631.3,797.4 L632.8,797.2 L634.3,797.0 L635.8,796.8 L637.3,796.6 L638.8,796.4 L640.3,796.3 L641.8,796.1 L643.3,796.0 L644.8,795.8 L646.3,795.7 L647.8,795.5 L649.3,795.4 L650.8,795.3 L652.3,795.2 L653.8,795.1 L655.3,795.0 L656.8,794.9 L658.3,794.8 L659.8,794.7 L661.3,794.6 L662.8,794.6 L664.3,794.5 L665.8,794.4 L666.0,794.4" fill="none" stroke="#9bbb59" stroke-width="2.85" stroke-linejoin="round" stroke-linecap="round" />
<path d="M221.0,804.0 L222.5,804.2 L224.0,804.5 L225.5,804.7 L227.0,804.9 L228.5,805.2 L230.0,805.4 L231.5,805.7 L233.0,805.9 L234.5,806.1 L236.0,806.4 L237.5,806.6 L239.0,806.8 L240.5,807.0 L242.0,807.0 L243.5,807.0 L245.0,807.0 L246.5,807.0 L248.0,807.0 L249.5,807.0 L251.0,807.0 L252.5,807.0 L254.0,807.0 L255.5,807.0 L257.0,807.0 L258.5,807.0 L260.0,807.0 L261.5,807.0 L263.0,807.0 L264.5,807.0 L266.0,807.0 L267.5,807.0 L269.0,807.0 L270.5,807.0 L272.0,807.0 L273.5,807.0 L275.0,807.0 L276.5,807.0 L278.0,807.0 L279.5,807.0 L281.0,807.0 L282.5,807.0 L284.0,807.0 L285.5,807.0 L287.0,807.0 L288.5,807.0 L290.0,807.0 L291.5,807.0 L293.0,807.0 L294.5,807.0 L296.0,807.0 L297.5,807.0 L299.0,807.0 L300.5,807.0 L302.0,807.0 L303.5,807.0 L305.0,807.0 L306.5,807.0 L308.0,807.0 L309.5,807.0 L311.0,806.9 L312.5,806.9 L314.0,806.9 L315.5,806.8 L317.0,806.8 L318.5,806.7 L320.0,806.6 L321.5,806.5 L323.0,806.4 L324.5,806.3 L326.0,806.1 L327.5,805.9 L329.0,805.7 L330.5,805.5 L332.0,805.3 L333.5,805.1 L335.0,804.9 L336.5,804.7 L338.0,804.5 L339.5,804.4 L341.0,804.3 L342.5,804.2 L344.0,804.2 L345.5,804.2 L347.0,804.3 L348.5,804.4 L350.0,804.5 L351.5,804.7 L353.0,804.9 L354.5,805.1 L356.0,805.3 L357.5,805.5 L359.0,805.7 L360.5,806.0 L362.0,806.2 L363.5,806.4 L365.0,806.7 L366.6,807.0 L367.7,807.0 L370.4,806.8 L373.5,806.3 L376.6,804.9 L379.3,802.7 L381.8,800.0 L384.0,796.9 L386.1,793.4 L387.9,789.6 L389.6,785.5 L391.2,781.0 L392.7,776.2 L394.1,771.0 L395.3,765.5 L396.6,759.7 L397.7,753.6 L398.8,747.1 L399.8,740.4 L400.8,733.5 L401.8,726.3 L402.8,718.8 L403.7,711.2 L404.7,703.4 L405.6,695.4 L406.5,687.3 L407.4,679.1 L408.4,670.8 L409.3,662.4 L410.2,654.0 L411.2,645.5 L412.5,637.0 L413.8,628.6 L415.0,620.2 L416.3,611.9 L417.5,603.7 L418.8,595.6 L420.0,587.6 L421.3,579.8 L422.5,572.2 L423.7,564.7 L425.0,557.5 L426.2,550.6 L427.2,543.9 L428.3,537.4 L429.3,531.3 L430.4,525.5 L431.6,520.0 L432.7,514.8 L433.9,510.1 L435.1,505.6 L436.4,501.6 L437.6,498.0 L438.9,494.7 L440.2,491.9 L441.5,489.5 L442.8,487.5 L444.2,486.0 L445.5,484.9 L446.9,484.2 L448.2,484.0 L449.8,484.2 L451.4,484.9 L453.0,486.0 L454.5,487.5 L456.1,489.5 L457.6,491.9 L459.2,494.7 L460.7,498.0 L462.2,501.6 L463.7,505.6 L465.1,510.1 L466.6,514.8 L468.0,520.0 L469.4,525.5 L470.7,531.3 L472.0,537.4 L473.3,543.9 L474.6,550.6 L476.2,557.5 L477.8,564.8 L479.3,572.2 L480.9,579.8 L482.5,587.6 L484.2,595.6 L485.8,603.7 L487.5,611.9 L489.1,620.2 L490.8,628.6 L492.6,637.0 L494.3,645.5 L495.8,654.0 L497.2,662.4 L498.6,670.8 L500.0,679.1 L501.5,687.3 L502.9,695.4 L504.4,703.4 L505.8,711.1 L507.4,718.8 L508.9,726.2 L510.5,733.3 L512.1,740.3 L513.8,746.9 L515.6,753.3 L517.4,759.4 L519.7,765.1 L522.0,770.5 L524.5,775.6 L527.1,780.3 L529.9,784.6 L532.8,788.5 L536.0,792.0 L539.3,795.1 L543.0,797.8 L546.9,800.1 L551.2,802.0 L555.8,803.4 L560.5,804.5 L564.5,805.2 L566.2,805.4 L567.7,805.4 L569.2,805.4 L570.7,805.4 L572.2,805.4 L573.7,805.4 L575.2,805.4 L576.7,805.4 L578.2,805.4 L579.7,805.4 L581.2,805.4 L582.7,805.4 L584.2,805.4 L585.7,805.4 L587.2,805.4 L588.7,805.4 L590.2,805.4 L591.7,805.4 L593.2,805.4 L594.7,805.4 L596.2,805.4 L597.7,805.4 L599.2,805.4 L600.7,805.2 L602.2,804.7 L603.7,804.3 L605.2,803.9 L606.7,803.5 L608.2,803.1 L609.7,802.8 L611.2,802.4 L612.7,802.1 L614.2,801.8 L615.7,801.5 L617.2,801.2 L618.7,801.0 L620.2,800.7 L621.7,800.5 L623.2,800.3 L624.7,800.0 L626.2,799.8 L627.7,799.6 L629.2,799.5 L630.7,799.3 L632.2,799.1 L633.7,799.0 L635.2,798.8 L636.7,798.7 L638.2,798.5 L639.7,798.4 L641.2,798.3 L642.7,798.1 L644.2,798.0 L645.7,797.9 L647.2,797.8 L648.7,797.7 L650.2,797.6 L651.7,797.5 L653.2,797.5 L654.7,797.4 L656.2,797.3 L657.7,797.2 L659.2,797.2 L660.7,797.1 L662.2,797.0 L663.7,797.0 L665.2,796.9 L666.0,796.9" fill="none" stroke="#8064a2" stroke-width="2.85" stroke-linejoin="round" stroke-linecap="round" />
<rect x="50" y="177" width="4.13" height="4" fill="#fff"/>
<rect x="56.83" y="177" width="3.17" height="4" fill="#fff"/>
<rect x="105" y="231" width="4.03" height="4" fill="#fff"/>
<rect x="111.97" y="231" width="4.03" height="4" fill="#fff"/>
<rect x="334" y="254" width="2.79" height="4" fill="#fff"/>
<rect x="338.86" y="254" width="3.14" height="4" fill="#fff"/>
<rect x="418" y="376" width="4.57" height="5" fill="#fff"/>
<rect x="425.71" y="376" width="4.29" height="5" fill="#fff"/>
<rect x="434" y="376" width="4.00" height="5" fill="#fff"/>
<rect x="441.15" y="376" width="3.85" height="5" fill="#fff"/>
<rect x="522" y="376" width="4.58" height="5" fill="#fff"/>
<rect x="529.72" y="376" width="4.28" height="5" fill="#fff"/>
<rect x="627" y="376" width="4.16" height="5" fill="#fff"/>
<rect x="634.30" y="376" width="3.70" height="5" fill="#fff"/>
<rect x="670" y="167" width="4.46" height="5" fill="#fff"/>
<rect x="677.87" y="167" width="4.13" height="5" fill="#fff"/>
<rect x="147" y="607" width="4.13" height="5" fill="#fff"/>
<rect x="153.83" y="607" width="3.17" height="5" fill="#fff"/>
<rect x="112" y="665" width="4.11" height="5" fill="#fff"/>
<rect x="119.05" y="665" width="3.95" height="5" fill="#fff"/>
<rect x="204" y="665" width="4.04" height="5" fill="#fff"/>
<rect x="210.98" y="665" width="4.02" height="5" fill="#fff"/>
<rect x="294" y="689" width="2.98" height="4" fill="#fff"/>
<rect x="299.10" y="689" width="2.90" height="4" fill="#fff"/>
<rect x="378" y="842" width="3.95" height="5" fill="#fff"/>
<rect x="385.09" y="842" width="3.91" height="5" fill="#fff"/>
<rect x="548" y="842" width="3.93" height="5" fill="#fff"/>
<rect x="555.07" y="842" width="3.93" height="5" fill="#fff"/>
<rect x="617" y="623" width="4.69" height="5" fill="#fff"/>
<rect x="625.22" y="623" width="4.78" height="5" fill="#fff"/>
</svg>
</body></html>
